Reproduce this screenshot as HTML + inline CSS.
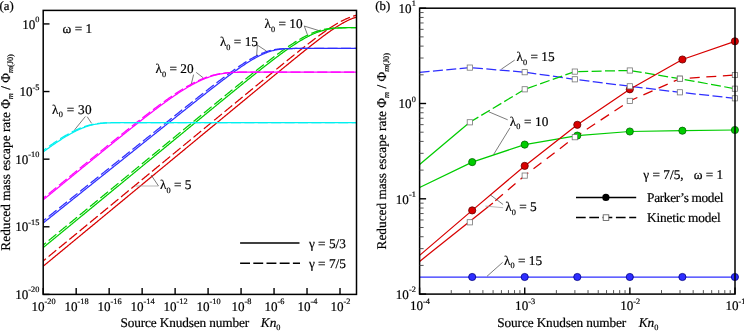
<!DOCTYPE html><html><head><meta charset="utf-8"><style>html,body{margin:0;padding:0;background:#fff;overflow:hidden}svg{display:block;will-change:transform}text{font-family:"Liberation Serif", serif;fill:#000;white-space:pre;text-rendering:geometricPrecision;stroke:#000;stroke-width:0.2px}</style></head><body>
<svg width="744" height="331" viewBox="0 0 744 331" xml:space="preserve">
<defs><clipPath id="cl"><rect x="43.20" y="10.40" width="313.30" height="284.00"/></clipPath>
<clipPath id="cr"><rect x="419.60" y="8.20" width="315.40" height="285.90"/></clipPath></defs>
<rect width="744" height="331" fill="#fff"/>
<polyline points="38.25,265.05 39.06,264.39 39.87,263.72 40.68,263.05 41.49,262.39 42.30,261.72 43.11,261.05 43.92,260.39 44.73,259.72 45.54,259.06 46.35,258.39 47.16,257.72 47.97,257.06 48.78,256.39 49.59,255.72 50.40,255.06 51.21,254.39 52.02,253.72 52.83,253.06 53.64,252.39 54.45,251.73 55.26,251.06 56.07,250.39 56.88,249.73 57.69,249.06 58.50,248.39 59.31,247.73 60.12,247.06 60.93,246.40 61.74,245.73 62.55,245.06 63.36,244.40 64.17,243.73 64.98,243.06 65.79,242.40 66.60,241.73 67.41,241.06 68.22,240.40 69.03,239.73 69.84,239.07 70.65,238.40 71.46,237.73 72.27,237.07 73.08,236.40 73.89,235.73 74.70,235.07 75.51,234.40 76.32,233.73 77.13,233.07 77.94,232.40 78.75,231.74 79.56,231.07 80.37,230.40 81.18,229.74 81.99,229.07 82.80,228.40 83.61,227.74 84.42,227.07 85.23,226.41 86.04,225.74 86.85,225.07 87.66,224.41 88.47,223.74 89.28,223.07 90.09,222.41 90.90,221.74 91.71,221.07 92.52,220.41 93.33,219.74 94.14,219.08 94.95,218.41 95.76,217.74 96.57,217.08 97.38,216.41 98.19,215.74 99.00,215.08 99.81,214.41 100.62,213.75 101.43,213.08 102.24,212.41 103.05,211.75 103.86,211.08 104.67,210.41 105.48,209.75 106.29,209.08 107.10,208.41 107.91,207.75 108.72,207.08 109.53,206.42 110.34,205.75 111.15,205.08 111.96,204.42 112.77,203.75 113.58,203.08 114.39,202.42 115.20,201.75 116.01,201.09 116.82,200.42 117.63,199.75 118.44,199.09 119.25,198.42 120.06,197.75 120.87,197.09 121.68,196.42 122.49,195.75 123.30,195.09 124.11,194.42 124.92,193.76 125.73,193.09 126.54,192.42 127.35,191.76 128.16,191.09 128.97,190.42 129.78,189.76 130.59,189.09 131.40,188.43 132.21,187.76 133.02,187.09 133.83,186.43 134.64,185.76 135.45,185.09 136.26,184.43 137.07,183.76 137.88,183.09 138.69,182.43 139.50,181.76 140.31,181.10 141.12,180.43 141.93,179.76 142.74,179.10 143.55,178.43 144.36,177.76 145.17,177.10 145.98,176.43 146.79,175.77 147.60,175.10 148.41,174.43 149.22,173.77 150.03,173.10 150.84,172.43 151.65,171.77 152.46,171.10 153.27,170.43 154.08,169.77 154.89,169.10 155.70,168.44 156.51,167.77 157.32,167.10 158.13,166.44 158.94,165.77 159.75,165.10 160.56,164.44 161.37,163.77 162.18,163.11 162.99,162.44 163.80,161.77 164.61,161.11 165.42,160.44 166.23,159.77 167.04,159.11 167.85,158.44 168.66,157.77 169.47,157.11 170.28,156.44 171.09,155.78 171.90,155.11 172.71,154.44 173.52,153.78 174.33,153.11 175.14,152.44 175.95,151.78 176.76,151.11 177.57,150.45 178.38,149.78 179.19,149.11 180.00,148.45 180.81,147.78 181.62,147.11 182.43,146.45 183.24,145.78 184.05,145.11 184.86,144.45 185.67,143.78 186.48,143.12 187.29,142.45 188.10,141.78 188.91,141.12 189.72,140.45 190.53,139.78 191.34,139.12 192.15,138.45 192.96,137.79 193.77,137.12 194.58,136.45 195.39,135.79 196.20,135.12 197.01,134.45 197.82,133.79 198.63,133.12 199.44,132.46 200.26,131.79 201.07,131.12 201.88,130.46 202.69,129.79 203.50,129.12 204.31,128.46 205.12,127.79 205.93,127.13 206.74,126.46 207.55,125.79 208.36,125.13 209.17,124.46 209.98,123.79 210.79,123.13 211.60,122.46 212.41,121.80 213.22,121.13 214.03,120.46 214.84,119.80 215.65,119.13 216.46,118.47 217.27,117.80 218.08,117.13 218.89,116.47 219.70,115.80 220.51,115.14 221.32,114.47 222.13,113.80 222.94,113.14 223.75,112.47 224.56,111.80 225.37,111.14 226.18,110.47 226.99,109.81 227.80,109.14 228.61,108.48 229.42,107.81 230.23,107.14 231.04,106.48 231.85,105.81 232.66,105.15 233.47,104.48 234.28,103.81 235.09,103.15 235.90,102.48 236.71,101.82 237.52,101.15 238.33,100.49 239.14,99.82 239.95,99.15 240.76,98.49 241.57,97.82 242.38,97.16 243.19,96.49 244.00,95.83 244.81,95.16 245.62,94.50 246.43,93.83 247.24,93.17 248.05,92.50 248.86,91.84 249.67,91.17 250.48,90.51 251.29,89.84 252.10,89.18 252.91,88.51 253.72,87.85 254.53,87.18 255.34,86.52 256.15,85.85 256.96,85.19 257.77,84.53 258.58,83.86 259.39,83.20 260.20,82.53 261.01,81.87 261.82,81.21 262.63,80.54 263.44,79.88 264.25,79.22 265.06,78.55 265.87,77.89 266.68,77.23 267.49,76.56 268.30,75.90 269.11,75.24 269.92,74.58 270.73,73.92 271.54,73.25 272.35,72.59 273.16,71.93 273.97,71.27 274.78,70.61 275.59,69.95 276.40,69.29 277.21,68.63 278.02,67.97 278.83,67.31 279.64,66.65 280.45,65.99 281.26,65.34 282.07,64.68 282.88,64.02 283.69,63.36 284.50,62.71 285.31,62.05 286.12,61.40 286.93,60.74 287.74,60.09 288.55,59.43 289.36,58.78 290.17,58.13 290.98,57.48 291.79,56.82 292.60,56.17 293.41,55.52 294.22,54.88 295.03,54.23 295.84,53.58 296.65,52.93 297.46,52.29 298.27,51.64 299.08,51.00 299.89,50.36 300.70,49.72 301.51,49.08 302.32,48.44 303.13,47.80 303.94,47.17 304.75,46.53 305.56,45.90 306.37,45.27 307.18,44.64 307.99,44.01 308.80,43.38 309.61,42.76 310.42,42.14 311.23,41.52 312.04,40.90 312.85,40.28 313.66,39.67 314.47,39.06 315.28,38.45 316.09,37.85 316.90,37.24 317.71,36.64 318.52,36.05 319.33,35.45 320.14,34.86 320.95,34.28 321.76,33.70 322.57,33.12 323.38,32.54 324.19,31.97 325.00,31.40 325.81,30.84 326.62,30.28 327.43,29.73 328.24,29.18 329.05,28.64 329.86,28.11 330.67,27.58 331.48,27.05 332.29,26.53 333.10,26.02 333.91,25.52 334.72,25.02 335.53,24.53 336.34,24.04 337.15,23.57 337.96,23.10 338.77,22.64 339.58,22.19 340.39,21.75 341.20,21.32 342.01,20.90 342.82,20.48 343.63,20.08 344.44,19.69 345.25,19.30 346.06,18.93 346.87,18.57 347.68,18.23 348.49,17.89 349.30,17.56 350.11,17.25 350.92,16.95 351.73,16.66 352.54,16.39 353.35,16.13 354.16,15.88 354.97,15.64 355.78,15.42 356.59,15.20 357.40,15.01 358.21,14.82 359.02,14.65 359.83,14.49 360.64,14.34 361.45,14.20" fill="none" stroke="#d80000" stroke-width="1.25" stroke-dasharray="10 3.4" clip-path="url(#cl)" stroke-linejoin="round"/>
<polyline points="38.25,270.32 39.06,269.65 39.87,268.98 40.68,268.31 41.49,267.64 42.30,266.97 43.11,266.30 43.92,265.63 44.73,264.96 45.54,264.29 46.35,263.63 47.16,262.96 47.97,262.29 48.78,261.62 49.59,260.95 50.40,260.28 51.21,259.61 52.02,258.94 52.83,258.27 53.64,257.60 54.45,256.94 55.26,256.27 56.07,255.60 56.88,254.93 57.69,254.26 58.50,253.59 59.31,252.92 60.12,252.25 60.93,251.58 61.74,250.92 62.55,250.25 63.36,249.58 64.17,248.91 64.98,248.24 65.79,247.57 66.60,246.90 67.41,246.23 68.22,245.56 69.03,244.89 69.84,244.23 70.65,243.56 71.46,242.89 72.27,242.22 73.08,241.55 73.89,240.88 74.70,240.21 75.51,239.54 76.32,238.87 77.13,238.20 77.94,237.54 78.75,236.87 79.56,236.20 80.37,235.53 81.18,234.86 81.99,234.19 82.80,233.52 83.61,232.85 84.42,232.18 85.23,231.51 86.04,230.85 86.85,230.18 87.66,229.51 88.47,228.84 89.28,228.17 90.09,227.50 90.90,226.83 91.71,226.16 92.52,225.49 93.33,224.82 94.14,224.16 94.95,223.49 95.76,222.82 96.57,222.15 97.38,221.48 98.19,220.81 99.00,220.14 99.81,219.47 100.62,218.80 101.43,218.14 102.24,217.47 103.05,216.80 103.86,216.13 104.67,215.46 105.48,214.79 106.29,214.12 107.10,213.45 107.91,212.78 108.72,212.11 109.53,211.45 110.34,210.78 111.15,210.11 111.96,209.44 112.77,208.77 113.58,208.10 114.39,207.43 115.20,206.76 116.01,206.09 116.82,205.42 117.63,204.76 118.44,204.09 119.25,203.42 120.06,202.75 120.87,202.08 121.68,201.41 122.49,200.74 123.30,200.07 124.11,199.40 124.92,198.73 125.73,198.07 126.54,197.40 127.35,196.73 128.16,196.06 128.97,195.39 129.78,194.72 130.59,194.05 131.40,193.38 132.21,192.71 133.02,192.05 133.83,191.38 134.64,190.71 135.45,190.04 136.26,189.37 137.07,188.70 137.88,188.03 138.69,187.36 139.50,186.69 140.31,186.02 141.12,185.36 141.93,184.69 142.74,184.02 143.55,183.35 144.36,182.68 145.17,182.01 145.98,181.34 146.79,180.67 147.60,180.00 148.41,179.33 149.22,178.67 150.03,178.00 150.84,177.33 151.65,176.66 152.46,175.99 153.27,175.32 154.08,174.65 154.89,173.98 155.70,173.31 156.51,172.64 157.32,171.98 158.13,171.31 158.94,170.64 159.75,169.97 160.56,169.30 161.37,168.63 162.18,167.96 162.99,167.29 163.80,166.62 164.61,165.95 165.42,165.29 166.23,164.62 167.04,163.95 167.85,163.28 168.66,162.61 169.47,161.94 170.28,161.27 171.09,160.60 171.90,159.93 172.71,159.27 173.52,158.60 174.33,157.93 175.14,157.26 175.95,156.59 176.76,155.92 177.57,155.25 178.38,154.58 179.19,153.91 180.00,153.24 180.81,152.58 181.62,151.91 182.43,151.24 183.24,150.57 184.05,149.90 184.86,149.23 185.67,148.56 186.48,147.89 187.29,147.22 188.10,146.55 188.91,145.89 189.72,145.22 190.53,144.55 191.34,143.88 192.15,143.21 192.96,142.54 193.77,141.87 194.58,141.20 195.39,140.53 196.20,139.87 197.01,139.20 197.82,138.53 198.63,137.86 199.44,137.19 200.26,136.52 201.07,135.85 201.88,135.18 202.69,134.51 203.50,133.84 204.31,133.18 205.12,132.51 205.93,131.84 206.74,131.17 207.55,130.50 208.36,129.83 209.17,129.16 209.98,128.49 210.79,127.82 211.60,127.16 212.41,126.49 213.22,125.82 214.03,125.15 214.84,124.48 215.65,123.81 216.46,123.14 217.27,122.47 218.08,121.80 218.89,121.13 219.70,120.47 220.51,119.80 221.32,119.13 222.13,118.46 222.94,117.79 223.75,117.12 224.56,116.45 225.37,115.78 226.18,115.11 226.99,114.45 227.80,113.78 228.61,113.11 229.42,112.44 230.23,111.77 231.04,111.10 231.85,110.43 232.66,109.76 233.47,109.10 234.28,108.43 235.09,107.76 235.90,107.09 236.71,106.42 237.52,105.75 238.33,105.08 239.14,104.41 239.95,103.75 240.76,103.08 241.57,102.41 242.38,101.74 243.19,101.07 244.00,100.40 244.81,99.73 245.62,99.07 246.43,98.40 247.24,97.73 248.05,97.06 248.86,96.39 249.67,95.72 250.48,95.05 251.29,94.39 252.10,93.72 252.91,93.05 253.72,92.38 254.53,91.71 255.34,91.04 256.15,90.38 256.96,89.71 257.77,89.04 258.58,88.37 259.39,87.70 260.20,87.04 261.01,86.37 261.82,85.70 262.63,85.03 263.44,84.37 264.25,83.70 265.06,83.03 265.87,82.36 266.68,81.70 267.49,81.03 268.30,80.36 269.11,79.69 269.92,79.03 270.73,78.36 271.54,77.69 272.35,77.03 273.16,76.36 273.97,75.69 274.78,75.03 275.59,74.36 276.40,73.70 277.21,73.03 278.02,72.36 278.83,71.70 279.64,71.03 280.45,70.37 281.26,69.70 282.07,69.04 282.88,68.38 283.69,67.71 284.50,67.05 285.31,66.38 286.12,65.72 286.93,65.06 287.74,64.40 288.55,63.73 289.36,63.07 290.17,62.41 290.98,61.75 291.79,61.09 292.60,60.43 293.41,59.77 294.22,59.11 295.03,58.45 295.84,57.79 296.65,57.14 297.46,56.48 298.27,55.82 299.08,55.17 299.89,54.51 300.70,53.86 301.51,53.20 302.32,52.55 303.13,51.90 303.94,51.25 304.75,50.60 305.56,49.95 306.37,49.30 307.18,48.66 307.99,48.01 308.80,47.37 309.61,46.73 310.42,46.09 311.23,45.45 312.04,44.81 312.85,44.17 313.66,43.54 314.47,42.91 315.28,42.28 316.09,41.65 316.90,41.02 317.71,40.40 318.52,39.77 319.33,39.16 320.14,38.54 320.95,37.93 321.76,37.31 322.57,36.71 323.38,36.10 324.19,35.50 325.00,34.90 325.81,34.31 326.62,33.72 327.43,33.13 328.24,32.55 329.05,31.97 329.86,31.40 330.67,30.83 331.48,30.27 332.29,29.71 333.10,29.16 333.91,28.62 334.72,28.08 335.53,27.54 336.34,27.02 337.15,26.50 337.96,25.99 338.77,25.48 339.58,24.99 340.39,24.50 341.20,24.02 342.01,23.55 342.82,23.09 343.63,22.64 344.44,22.20 345.25,21.78 346.06,21.36 346.87,20.95 347.68,20.55 348.49,20.17 349.30,19.80 350.11,19.44 350.92,19.10 351.73,18.76 352.54,18.45 353.35,18.14 354.16,17.85 354.97,17.57 355.78,17.31 356.59,17.06 357.40,16.83 358.21,16.61 359.02,16.41 359.83,16.22 360.64,16.05 361.45,15.88" fill="none" stroke="#d80000" stroke-width="1.25" clip-path="url(#cl)" stroke-linejoin="round"/>
<polyline points="38.25,249.10 39.06,248.44 39.87,247.77 40.68,247.11 41.49,246.44 42.30,245.78 43.11,245.11 43.92,244.44 44.73,243.78 45.54,243.11 46.35,242.45 47.16,241.78 47.97,241.12 48.78,240.45 49.59,239.78 50.40,239.12 51.21,238.45 52.02,237.79 52.83,237.12 53.64,236.46 54.45,235.79 55.26,235.12 56.07,234.46 56.88,233.79 57.69,233.13 58.50,232.46 59.31,231.80 60.12,231.13 60.93,230.47 61.74,229.80 62.55,229.13 63.36,228.47 64.17,227.80 64.98,227.14 65.79,226.47 66.60,225.81 67.41,225.14 68.22,224.47 69.03,223.81 69.84,223.14 70.65,222.48 71.46,221.81 72.27,221.15 73.08,220.48 73.89,219.81 74.70,219.15 75.51,218.48 76.32,217.82 77.13,217.15 77.94,216.49 78.75,215.82 79.56,215.15 80.37,214.49 81.18,213.82 81.99,213.16 82.80,212.49 83.61,211.83 84.42,211.16 85.23,210.50 86.04,209.83 86.85,209.16 87.66,208.50 88.47,207.83 89.28,207.17 90.09,206.50 90.90,205.84 91.71,205.17 92.52,204.50 93.33,203.84 94.14,203.17 94.95,202.51 95.76,201.84 96.57,201.18 97.38,200.51 98.19,199.84 99.00,199.18 99.81,198.51 100.62,197.85 101.43,197.18 102.24,196.52 103.05,195.85 103.86,195.19 104.67,194.52 105.48,193.85 106.29,193.19 107.10,192.52 107.91,191.86 108.72,191.19 109.53,190.53 110.34,189.86 111.15,189.19 111.96,188.53 112.77,187.86 113.58,187.20 114.39,186.53 115.20,185.87 116.01,185.20 116.82,184.54 117.63,183.87 118.44,183.20 119.25,182.54 120.06,181.87 120.87,181.21 121.68,180.54 122.49,179.88 123.30,179.21 124.11,178.54 124.92,177.88 125.73,177.21 126.54,176.55 127.35,175.88 128.16,175.22 128.97,174.55 129.78,173.89 130.59,173.22 131.40,172.55 132.21,171.89 133.02,171.22 133.83,170.56 134.64,169.89 135.45,169.23 136.26,168.56 137.07,167.89 137.88,167.23 138.69,166.56 139.50,165.90 140.31,165.23 141.12,164.57 141.93,163.90 142.74,163.24 143.55,162.57 144.36,161.90 145.17,161.24 145.98,160.57 146.79,159.91 147.60,159.24 148.41,158.58 149.22,157.91 150.03,157.25 150.84,156.58 151.65,155.91 152.46,155.25 153.27,154.58 154.08,153.92 154.89,153.25 155.70,152.59 156.51,151.92 157.32,151.26 158.13,150.59 158.94,149.92 159.75,149.26 160.56,148.59 161.37,147.93 162.18,147.26 162.99,146.60 163.80,145.93 164.61,145.27 165.42,144.60 166.23,143.94 167.04,143.27 167.85,142.60 168.66,141.94 169.47,141.27 170.28,140.61 171.09,139.94 171.90,139.28 172.71,138.61 173.52,137.95 174.33,137.28 175.14,136.62 175.95,135.95 176.76,135.29 177.57,134.62 178.38,133.96 179.19,133.29 180.00,132.63 180.81,131.96 181.62,131.30 182.43,130.63 183.24,129.97 184.05,129.30 184.86,128.64 185.67,127.97 186.48,127.31 187.29,126.64 188.10,125.98 188.91,125.31 189.72,124.65 190.53,123.98 191.34,123.32 192.15,122.65 192.96,121.99 193.77,121.32 194.58,120.66 195.39,119.99 196.20,119.33 197.01,118.66 197.82,118.00 198.63,117.33 199.44,116.67 200.26,116.01 201.07,115.34 201.88,114.68 202.69,114.01 203.50,113.35 204.31,112.69 205.12,112.02 205.93,111.36 206.74,110.69 207.55,110.03 208.36,109.37 209.17,108.70 209.98,108.04 210.79,107.38 211.60,106.71 212.41,106.05 213.22,105.39 214.03,104.72 214.84,104.06 215.65,103.40 216.46,102.74 217.27,102.07 218.08,101.41 218.89,100.75 219.70,100.09 220.51,99.43 221.32,98.76 222.13,98.10 222.94,97.44 223.75,96.78 224.56,96.12 225.37,95.46 226.18,94.80 226.99,94.14 227.80,93.48 228.61,92.82 229.42,92.16 230.23,91.50 231.04,90.84 231.85,90.18 232.66,89.52 233.47,88.86 234.28,88.21 235.09,87.55 235.90,86.89 236.71,86.23 237.52,85.58 238.33,84.92 239.14,84.27 239.95,83.61 240.76,82.96 241.57,82.30 242.38,81.65 243.19,80.99 244.00,80.34 244.81,79.69 245.62,79.04 246.43,78.39 247.24,77.73 248.05,77.08 248.86,76.43 249.67,75.79 250.48,75.14 251.29,74.49 252.10,73.84 252.91,73.20 253.72,72.55 254.53,71.91 255.34,71.27 256.15,70.62 256.96,69.98 257.77,69.34 258.58,68.70 259.39,68.06 260.20,67.43 261.01,66.79 261.82,66.16 262.63,65.52 263.44,64.89 264.25,64.26 265.06,63.63 265.87,63.00 266.68,62.38 267.49,61.75 268.30,61.13 269.11,60.51 269.92,59.89 270.73,59.27 271.54,58.66 272.35,58.05 273.16,57.44 273.97,56.83 274.78,56.22 275.59,55.62 276.40,55.01 277.21,54.42 278.02,53.82 278.83,53.23 279.64,52.64 280.45,52.05 281.26,51.46 282.07,50.88 282.88,50.30 283.69,49.73 284.50,49.16 285.31,48.59 286.12,48.03 286.93,47.47 287.74,46.92 288.55,46.37 289.36,45.82 290.17,45.28 290.98,44.75 291.79,44.21 292.60,43.69 293.41,43.17 294.22,42.65 295.03,42.15 295.84,41.64 296.65,41.15 297.46,40.65 298.27,40.17 299.08,39.69 299.89,39.22 300.70,38.76 301.51,38.31 302.32,37.86 303.13,37.42 303.94,36.99 304.75,36.56 305.56,36.15 306.37,35.74 307.18,35.34 307.99,34.95 308.80,34.58 309.61,34.21 310.42,33.85 311.23,33.50 312.04,33.16 312.85,32.83 313.66,32.51 314.47,32.20 315.28,31.91 316.09,31.62 316.90,31.35 317.71,31.08 318.52,30.83 319.33,30.59 320.14,30.36 320.95,30.14 321.76,29.93 322.57,29.74 323.38,29.55 324.19,29.38 325.00,29.22 325.81,29.06 326.62,28.92 327.43,28.79 328.24,28.67 329.05,28.56 329.86,28.46 330.67,28.36 331.48,28.28 332.29,28.20 333.10,28.13 333.91,28.07 334.72,28.02 335.53,27.97 336.34,27.93 337.15,27.89 337.96,27.86 338.77,27.83 339.58,27.81 340.39,27.79 341.20,27.78 342.01,27.76 342.82,27.75 343.63,27.74 344.44,27.73 345.25,27.73 346.06,27.72 346.87,27.72 347.68,27.72 348.49,27.72 349.30,27.71 350.11,27.71 350.92,27.71 351.73,27.71 352.54,27.71 353.35,27.71 354.16,27.71 354.97,27.71 355.78,27.71 356.59,27.71 357.40,27.71 358.21,27.71 359.02,27.71 359.83,27.71 360.64,27.71 361.45,27.71" fill="none" stroke="#00cc00" stroke-width="1.25" stroke-dasharray="10 3.4" clip-path="url(#cl)" stroke-linejoin="round"/>
<polyline points="38.25,251.67 39.06,251.01 39.87,250.34 40.68,249.68 41.49,249.01 42.30,248.34 43.11,247.68 43.92,247.01 44.73,246.35 45.54,245.68 46.35,245.02 47.16,244.35 47.97,243.69 48.78,243.02 49.59,242.35 50.40,241.69 51.21,241.02 52.02,240.36 52.83,239.69 53.64,239.03 54.45,238.36 55.26,237.69 56.07,237.03 56.88,236.36 57.69,235.70 58.50,235.03 59.31,234.37 60.12,233.70 60.93,233.03 61.74,232.37 62.55,231.70 63.36,231.04 64.17,230.37 64.98,229.71 65.79,229.04 66.60,228.37 67.41,227.71 68.22,227.04 69.03,226.38 69.84,225.71 70.65,225.05 71.46,224.38 72.27,223.72 73.08,223.05 73.89,222.38 74.70,221.72 75.51,221.05 76.32,220.39 77.13,219.72 77.94,219.06 78.75,218.39 79.56,217.72 80.37,217.06 81.18,216.39 81.99,215.73 82.80,215.06 83.61,214.40 84.42,213.73 85.23,213.06 86.04,212.40 86.85,211.73 87.66,211.07 88.47,210.40 89.28,209.74 90.09,209.07 90.90,208.41 91.71,207.74 92.52,207.07 93.33,206.41 94.14,205.74 94.95,205.08 95.76,204.41 96.57,203.75 97.38,203.08 98.19,202.41 99.00,201.75 99.81,201.08 100.62,200.42 101.43,199.75 102.24,199.09 103.05,198.42 103.86,197.75 104.67,197.09 105.48,196.42 106.29,195.76 107.10,195.09 107.91,194.43 108.72,193.76 109.53,193.10 110.34,192.43 111.15,191.76 111.96,191.10 112.77,190.43 113.58,189.77 114.39,189.10 115.20,188.44 116.01,187.77 116.82,187.10 117.63,186.44 118.44,185.77 119.25,185.11 120.06,184.44 120.87,183.78 121.68,183.11 122.49,182.45 123.30,181.78 124.11,181.11 124.92,180.45 125.73,179.78 126.54,179.12 127.35,178.45 128.16,177.79 128.97,177.12 129.78,176.45 130.59,175.79 131.40,175.12 132.21,174.46 133.02,173.79 133.83,173.13 134.64,172.46 135.45,171.80 136.26,171.13 137.07,170.46 137.88,169.80 138.69,169.13 139.50,168.47 140.31,167.80 141.12,167.14 141.93,166.47 142.74,165.80 143.55,165.14 144.36,164.47 145.17,163.81 145.98,163.14 146.79,162.48 147.60,161.81 148.41,161.15 149.22,160.48 150.03,159.81 150.84,159.15 151.65,158.48 152.46,157.82 153.27,157.15 154.08,156.49 154.89,155.82 155.70,155.16 156.51,154.49 157.32,153.82 158.13,153.16 158.94,152.49 159.75,151.83 160.56,151.16 161.37,150.50 162.18,149.83 162.99,149.17 163.80,148.50 164.61,147.84 165.42,147.17 166.23,146.50 167.04,145.84 167.85,145.17 168.66,144.51 169.47,143.84 170.28,143.18 171.09,142.51 171.90,141.85 172.71,141.18 173.52,140.52 174.33,139.85 175.14,139.19 175.95,138.52 176.76,137.85 177.57,137.19 178.38,136.52 179.19,135.86 180.00,135.19 180.81,134.53 181.62,133.86 182.43,133.20 183.24,132.53 184.05,131.87 184.86,131.20 185.67,130.54 186.48,129.87 187.29,129.21 188.10,128.54 188.91,127.88 189.72,127.21 190.53,126.55 191.34,125.88 192.15,125.22 192.96,124.55 193.77,123.89 194.58,123.22 195.39,122.56 196.20,121.89 197.01,121.23 197.82,120.56 198.63,119.90 199.44,119.24 200.26,118.57 201.07,117.91 201.88,117.24 202.69,116.58 203.50,115.91 204.31,115.25 205.12,114.58 205.93,113.92 206.74,113.26 207.55,112.59 208.36,111.93 209.17,111.27 209.98,110.60 210.79,109.94 211.60,109.27 212.41,108.61 213.22,107.95 214.03,107.28 214.84,106.62 215.65,105.96 216.46,105.29 217.27,104.63 218.08,103.97 218.89,103.31 219.70,102.64 220.51,101.98 221.32,101.32 222.13,100.66 222.94,100.00 223.75,99.33 224.56,98.67 225.37,98.01 226.18,97.35 226.99,96.69 227.80,96.03 228.61,95.37 229.42,94.71 230.23,94.05 231.04,93.39 231.85,92.73 232.66,92.07 233.47,91.41 234.28,90.75 235.09,90.09 235.90,89.43 236.71,88.77 237.52,88.11 238.33,87.46 239.14,86.80 239.95,86.14 240.76,85.49 241.57,84.83 242.38,84.17 243.19,83.52 244.00,82.86 244.81,82.21 245.62,81.56 246.43,80.90 247.24,80.25 248.05,79.60 248.86,78.95 249.67,78.29 250.48,77.64 251.29,76.99 252.10,76.34 252.91,75.70 253.72,75.05 254.53,74.40 255.34,73.75 256.15,73.11 256.96,72.46 257.77,71.82 258.58,71.18 259.39,70.53 260.20,69.89 261.01,69.25 261.82,68.61 262.63,67.98 263.44,67.34 264.25,66.70 265.06,66.07 265.87,65.44 266.68,64.80 267.49,64.17 268.30,63.54 269.11,62.92 269.92,62.29 270.73,61.67 271.54,61.04 272.35,60.42 273.16,59.81 273.97,59.19 274.78,58.57 275.59,57.96 276.40,57.35 277.21,56.74 278.02,56.14 278.83,55.53 279.64,54.93 280.45,54.33 281.26,53.74 282.07,53.14 282.88,52.55 283.69,51.97 284.50,51.38 285.31,50.80 286.12,50.22 286.93,49.65 287.74,49.08 288.55,48.51 289.36,47.95 290.17,47.39 290.98,46.84 291.79,46.29 292.60,45.75 293.41,45.21 294.22,44.67 295.03,44.14 295.84,43.62 296.65,43.10 297.46,42.58 298.27,42.07 299.08,41.57 299.89,41.08 300.70,40.59 301.51,40.10 302.32,39.63 303.13,39.16 303.94,38.70 304.75,38.24 305.56,37.80 306.37,37.36 307.18,36.93 307.99,36.50 308.80,36.09 309.61,35.68 310.42,35.29 311.23,34.90 312.04,34.52 312.85,34.16 313.66,33.80 314.47,33.45 315.28,33.11 316.09,32.78 316.90,32.47 317.71,32.16 318.52,31.87 319.33,31.58 320.14,31.31 320.95,31.05 321.76,30.80 322.57,30.56 323.38,30.33 324.19,30.11 325.00,29.90 325.81,29.71 326.62,29.53 327.43,29.35 328.24,29.19 329.05,29.04 329.86,28.90 330.67,28.77 331.48,28.65 332.29,28.54 333.10,28.44 333.91,28.35 334.72,28.27 335.53,28.19 336.34,28.12 337.15,28.06 337.96,28.01 338.77,27.96 339.58,27.92 340.39,27.89 341.20,27.86 342.01,27.83 342.82,27.81 343.63,27.79 344.44,27.77 345.25,27.76 346.06,27.75 346.87,27.74 347.68,27.73 348.49,27.73 349.30,27.72 350.11,27.72 350.92,27.72 351.73,27.72 352.54,27.71 353.35,27.71 354.16,27.71 354.97,27.71 355.78,27.71 356.59,27.71 357.40,27.71 358.21,27.71 359.02,27.71 359.83,27.71 360.64,27.71 361.45,27.71" fill="none" stroke="#00cc00" stroke-width="1.25" clip-path="url(#cl)" stroke-linejoin="round"/>
<polyline points="38.25,224.78 39.06,224.14 39.87,223.49 40.68,222.84 41.49,222.19 42.30,221.55 43.11,220.90 43.92,220.25 44.73,219.61 45.54,218.96 46.35,218.31 47.16,217.66 47.97,217.02 48.78,216.37 49.59,215.72 50.40,215.08 51.21,214.43 52.02,213.78 52.83,213.14 53.64,212.49 54.45,211.84 55.26,211.19 56.07,210.55 56.88,209.90 57.69,209.25 58.50,208.61 59.31,207.96 60.12,207.31 60.93,206.66 61.74,206.02 62.55,205.37 63.36,204.72 64.17,204.08 64.98,203.43 65.79,202.78 66.60,202.14 67.41,201.49 68.22,200.84 69.03,200.19 69.84,199.55 70.65,198.90 71.46,198.25 72.27,197.61 73.08,196.96 73.89,196.31 74.70,195.66 75.51,195.02 76.32,194.37 77.13,193.72 77.94,193.08 78.75,192.43 79.56,191.78 80.37,191.14 81.18,190.49 81.99,189.84 82.80,189.19 83.61,188.55 84.42,187.90 85.23,187.25 86.04,186.61 86.85,185.96 87.66,185.31 88.47,184.67 89.28,184.02 90.09,183.37 90.90,182.72 91.71,182.08 92.52,181.43 93.33,180.78 94.14,180.14 94.95,179.49 95.76,178.84 96.57,178.19 97.38,177.55 98.19,176.90 99.00,176.25 99.81,175.61 100.62,174.96 101.43,174.31 102.24,173.67 103.05,173.02 103.86,172.37 104.67,171.72 105.48,171.08 106.29,170.43 107.10,169.78 107.91,169.14 108.72,168.49 109.53,167.84 110.34,167.20 111.15,166.55 111.96,165.90 112.77,165.25 113.58,164.61 114.39,163.96 115.20,163.31 116.01,162.67 116.82,162.02 117.63,161.37 118.44,160.73 119.25,160.08 120.06,159.43 120.87,158.78 121.68,158.14 122.49,157.49 123.30,156.84 124.11,156.20 124.92,155.55 125.73,154.90 126.54,154.26 127.35,153.61 128.16,152.96 128.97,152.32 129.78,151.67 130.59,151.02 131.40,150.37 132.21,149.73 133.02,149.08 133.83,148.43 134.64,147.79 135.45,147.14 136.26,146.49 137.07,145.85 137.88,145.20 138.69,144.55 139.50,143.91 140.31,143.26 141.12,142.61 141.93,141.97 142.74,141.32 143.55,140.67 144.36,140.03 145.17,139.38 145.98,138.73 146.79,138.09 147.60,137.44 148.41,136.79 149.22,136.15 150.03,135.50 150.84,134.85 151.65,134.21 152.46,133.56 153.27,132.91 154.08,132.27 154.89,131.62 155.70,130.97 156.51,130.33 157.32,129.68 158.13,129.04 158.94,128.39 159.75,127.74 160.56,127.10 161.37,126.45 162.18,125.81 162.99,125.16 163.80,124.51 164.61,123.87 165.42,123.22 166.23,122.58 167.04,121.93 167.85,121.29 168.66,120.64 169.47,119.99 170.28,119.35 171.09,118.70 171.90,118.06 172.71,117.41 173.52,116.77 174.33,116.12 175.14,115.48 175.95,114.83 176.76,114.19 177.57,113.54 178.38,112.90 179.19,112.26 180.00,111.61 180.81,110.97 181.62,110.32 182.43,109.68 183.24,109.04 184.05,108.39 184.86,107.75 185.67,107.11 186.48,106.47 187.29,105.82 188.10,105.18 188.91,104.54 189.72,103.90 190.53,103.26 191.34,102.62 192.15,101.97 192.96,101.33 193.77,100.69 194.58,100.05 195.39,99.41 196.20,98.77 197.01,98.14 197.82,97.50 198.63,96.86 199.44,96.22 200.26,95.58 201.07,94.95 201.88,94.31 202.69,93.68 203.50,93.04 204.31,92.41 205.12,91.77 205.93,91.14 206.74,90.51 207.55,89.87 208.36,89.24 209.17,88.61 209.98,87.98 210.79,87.36 211.60,86.73 212.41,86.10 213.22,85.47 214.03,84.85 214.84,84.23 215.65,83.60 216.46,82.98 217.27,82.36 218.08,81.74 218.89,81.12 219.70,80.51 220.51,79.89 221.32,79.28 222.13,78.67 222.94,78.06 223.75,77.45 224.56,76.84 225.37,76.24 226.18,75.64 226.99,75.04 227.80,74.44 228.61,73.84 229.42,73.25 230.23,72.66 231.04,72.07 231.85,71.49 232.66,70.90 233.47,70.33 234.28,69.75 235.09,69.18 235.90,68.61 236.71,68.04 237.52,67.48 238.33,66.92 239.14,66.37 239.95,65.82 240.76,65.27 241.57,64.73 242.38,64.20 243.19,63.67 244.00,63.14 244.81,62.62 245.62,62.11 246.43,61.60 247.24,61.10 248.05,60.61 248.86,60.12 249.67,59.64 250.48,59.16 251.29,58.70 252.10,58.24 252.91,57.79 253.72,57.34 254.53,56.91 255.34,56.49 256.15,56.07 256.96,55.66 257.77,55.27 258.58,54.88 259.39,54.50 260.20,54.14 261.01,53.78 261.82,53.44 262.63,53.11 263.44,52.79 264.25,52.48 265.06,52.18 265.87,51.90 266.68,51.63 267.49,51.37 268.30,51.12 269.11,50.88 269.92,50.66 270.73,50.45 271.54,50.26 272.35,50.07 273.16,49.90 273.97,49.74 274.78,49.60 275.59,49.46 276.40,49.34 277.21,49.23 278.02,49.13 278.83,49.03 279.64,48.95 280.45,48.88 281.26,48.82 282.07,48.76 282.88,48.71 283.69,48.67 284.50,48.63 285.31,48.60 286.12,48.58 286.93,48.56 287.74,48.54 288.55,48.53 289.36,48.52 290.17,48.51 290.98,48.50 291.79,48.50 292.60,48.49 293.41,48.49 294.22,48.49 295.03,48.49 295.84,48.49 296.65,48.48 297.46,48.48 298.27,48.48 299.08,48.48 299.89,48.48 300.70,48.48 301.51,48.48 302.32,48.48 303.13,48.48 303.94,48.48 304.75,48.48 305.56,48.48 306.37,48.48 307.18,48.48 307.99,48.48 308.80,48.48 309.61,48.48 310.42,48.48 311.23,48.48 312.04,48.48 312.85,48.48 313.66,48.48 314.47,48.48 315.28,48.48 316.09,48.48 316.90,48.48 317.71,48.48 318.52,48.48 319.33,48.48 320.14,48.48 320.95,48.48 321.76,48.48 322.57,48.48 323.38,48.48 324.19,48.48 325.00,48.48 325.81,48.48 326.62,48.48 327.43,48.48 328.24,48.48 329.05,48.48 329.86,48.48 330.67,48.48 331.48,48.48 332.29,48.48 333.10,48.48 333.91,48.48 334.72,48.48 335.53,48.48 336.34,48.48 337.15,48.48 337.96,48.48 338.77,48.48 339.58,48.48 340.39,48.48 341.20,48.48 342.01,48.48 342.82,48.48 343.63,48.48 344.44,48.48 345.25,48.48 346.06,48.48 346.87,48.48 347.68,48.48 348.49,48.48 349.30,48.48 350.11,48.48 350.92,48.48 351.73,48.48 352.54,48.48 353.35,48.48 354.16,48.48 354.97,48.48 355.78,48.48 356.59,48.48 357.40,48.48 358.21,48.48 359.02,48.48 359.83,48.48 360.64,48.48 361.45,48.48" fill="none" stroke="#2e2eff" stroke-width="1.25" stroke-dasharray="10 3.4" clip-path="url(#cl)" stroke-linejoin="round"/>
<polyline points="38.25,226.95 39.06,226.30 39.87,225.65 40.68,225.00 41.49,224.36 42.30,223.71 43.11,223.06 43.92,222.42 44.73,221.77 45.54,221.12 46.35,220.48 47.16,219.83 47.97,219.18 48.78,218.53 49.59,217.89 50.40,217.24 51.21,216.59 52.02,215.95 52.83,215.30 53.64,214.65 54.45,214.00 55.26,213.36 56.07,212.71 56.88,212.06 57.69,211.42 58.50,210.77 59.31,210.12 60.12,209.48 60.93,208.83 61.74,208.18 62.55,207.53 63.36,206.89 64.17,206.24 64.98,205.59 65.79,204.95 66.60,204.30 67.41,203.65 68.22,203.00 69.03,202.36 69.84,201.71 70.65,201.06 71.46,200.42 72.27,199.77 73.08,199.12 73.89,198.48 74.70,197.83 75.51,197.18 76.32,196.53 77.13,195.89 77.94,195.24 78.75,194.59 79.56,193.95 80.37,193.30 81.18,192.65 81.99,192.01 82.80,191.36 83.61,190.71 84.42,190.06 85.23,189.42 86.04,188.77 86.85,188.12 87.66,187.48 88.47,186.83 89.28,186.18 90.09,185.53 90.90,184.89 91.71,184.24 92.52,183.59 93.33,182.95 94.14,182.30 94.95,181.65 95.76,181.01 96.57,180.36 97.38,179.71 98.19,179.06 99.00,178.42 99.81,177.77 100.62,177.12 101.43,176.48 102.24,175.83 103.05,175.18 103.86,174.54 104.67,173.89 105.48,173.24 106.29,172.59 107.10,171.95 107.91,171.30 108.72,170.65 109.53,170.01 110.34,169.36 111.15,168.71 111.96,168.06 112.77,167.42 113.58,166.77 114.39,166.12 115.20,165.48 116.01,164.83 116.82,164.18 117.63,163.54 118.44,162.89 119.25,162.24 120.06,161.60 120.87,160.95 121.68,160.30 122.49,159.65 123.30,159.01 124.11,158.36 124.92,157.71 125.73,157.07 126.54,156.42 127.35,155.77 128.16,155.13 128.97,154.48 129.78,153.83 130.59,153.18 131.40,152.54 132.21,151.89 133.02,151.24 133.83,150.60 134.64,149.95 135.45,149.30 136.26,148.66 137.07,148.01 137.88,147.36 138.69,146.72 139.50,146.07 140.31,145.42 141.12,144.78 141.93,144.13 142.74,143.48 143.55,142.84 144.36,142.19 145.17,141.54 145.98,140.90 146.79,140.25 147.60,139.60 148.41,138.96 149.22,138.31 150.03,137.66 150.84,137.02 151.65,136.37 152.46,135.72 153.27,135.08 154.08,134.43 154.89,133.78 155.70,133.14 156.51,132.49 157.32,131.84 158.13,131.20 158.94,130.55 159.75,129.90 160.56,129.26 161.37,128.61 162.18,127.97 162.99,127.32 163.80,126.67 164.61,126.03 165.42,125.38 166.23,124.74 167.04,124.09 167.85,123.44 168.66,122.80 169.47,122.15 170.28,121.51 171.09,120.86 171.90,120.22 172.71,119.57 173.52,118.93 174.33,118.28 175.14,117.64 175.95,116.99 176.76,116.35 177.57,115.70 178.38,115.06 179.19,114.41 180.00,113.77 180.81,113.12 181.62,112.48 182.43,111.83 183.24,111.19 184.05,110.55 184.86,109.90 185.67,109.26 186.48,108.62 187.29,107.97 188.10,107.33 188.91,106.69 189.72,106.04 190.53,105.40 191.34,104.76 192.15,104.12 192.96,103.48 193.77,102.84 194.58,102.19 195.39,101.55 196.20,100.91 197.01,100.27 197.82,99.63 198.63,98.99 199.44,98.36 200.26,97.72 201.07,97.08 201.88,96.44 202.69,95.80 203.50,95.17 204.31,94.53 205.12,93.89 205.93,93.26 206.74,92.62 207.55,91.99 208.36,91.36 209.17,90.72 209.98,90.09 210.79,89.46 211.60,88.83 212.41,88.20 213.22,87.57 214.03,86.94 214.84,86.32 215.65,85.69 216.46,85.06 217.27,84.44 218.08,83.82 218.89,83.20 219.70,82.57 220.51,81.95 221.32,81.34 222.13,80.72 222.94,80.10 223.75,79.49 224.56,78.88 225.37,78.27 226.18,77.66 226.99,77.05 227.80,76.45 228.61,75.84 229.42,75.24 230.23,74.65 231.04,74.05 231.85,73.45 232.66,72.86 233.47,72.27 234.28,71.69 235.09,71.10 235.90,70.52 236.71,69.95 237.52,69.37 238.33,68.80 239.14,68.24 239.95,67.67 240.76,67.11 241.57,66.56 242.38,66.01 243.19,65.46 244.00,64.92 244.81,64.38 245.62,63.85 246.43,63.32 247.24,62.80 248.05,62.29 248.86,61.78 249.67,61.27 250.48,60.78 251.29,60.29 252.10,59.80 252.91,59.33 253.72,58.86 254.53,58.39 255.34,57.94 256.15,57.50 256.96,57.06 257.77,56.63 258.58,56.21 259.39,55.80 260.20,55.40 261.01,55.01 261.82,54.63 262.63,54.26 263.44,53.90 264.25,53.56 265.06,53.22 265.87,52.90 266.68,52.58 267.49,52.28 268.30,51.99 269.11,51.72 269.92,51.45 270.73,51.20 271.54,50.96 272.35,50.74 273.16,50.52 273.97,50.32 274.78,50.14 275.59,49.96 276.40,49.80 277.21,49.65 278.02,49.51 278.83,49.38 279.64,49.26 280.45,49.16 281.26,49.06 282.07,48.98 282.88,48.90 283.69,48.84 284.50,48.78 285.31,48.73 286.12,48.68 286.93,48.65 287.74,48.61 288.55,48.59 289.36,48.57 290.17,48.55 290.98,48.53 291.79,48.52 292.60,48.51 293.41,48.50 294.22,48.50 295.03,48.49 295.84,48.49 296.65,48.49 297.46,48.49 298.27,48.49 299.08,48.48 299.89,48.48 300.70,48.48 301.51,48.48 302.32,48.48 303.13,48.48 303.94,48.48 304.75,48.48 305.56,48.48 306.37,48.48 307.18,48.48 307.99,48.48 308.80,48.48 309.61,48.48 310.42,48.48 311.23,48.48 312.04,48.48 312.85,48.48 313.66,48.48 314.47,48.48 315.28,48.48 316.09,48.48 316.90,48.48 317.71,48.48 318.52,48.48 319.33,48.48 320.14,48.48 320.95,48.48 321.76,48.48 322.57,48.48 323.38,48.48 324.19,48.48 325.00,48.48 325.81,48.48 326.62,48.48 327.43,48.48 328.24,48.48 329.05,48.48 329.86,48.48 330.67,48.48 331.48,48.48 332.29,48.48 333.10,48.48 333.91,48.48 334.72,48.48 335.53,48.48 336.34,48.48 337.15,48.48 337.96,48.48 338.77,48.48 339.58,48.48 340.39,48.48 341.20,48.48 342.01,48.48 342.82,48.48 343.63,48.48 344.44,48.48 345.25,48.48 346.06,48.48 346.87,48.48 347.68,48.48 348.49,48.48 349.30,48.48 350.11,48.48 350.92,48.48 351.73,48.48 352.54,48.48 353.35,48.48 354.16,48.48 354.97,48.48 355.78,48.48 356.59,48.48 357.40,48.48 358.21,48.48 359.02,48.48 359.83,48.48 360.64,48.48 361.45,48.48" fill="none" stroke="#2e2eff" stroke-width="1.25" clip-path="url(#cl)" stroke-linejoin="round"/>
<polyline points="38.25,202.32 39.06,201.65 39.87,200.99 40.68,200.33 41.49,199.66 42.30,199.00 43.11,198.33 43.92,197.67 44.73,197.01 45.54,196.34 46.35,195.68 47.16,195.02 47.97,194.35 48.78,193.69 49.59,193.02 50.40,192.36 51.21,191.70 52.02,191.03 52.83,190.37 53.64,189.71 54.45,189.04 55.26,188.38 56.07,187.72 56.88,187.05 57.69,186.39 58.50,185.73 59.31,185.06 60.12,184.40 60.93,183.74 61.74,183.07 62.55,182.41 63.36,181.75 64.17,181.09 64.98,180.42 65.79,179.76 66.60,179.10 67.41,178.43 68.22,177.77 69.03,177.11 69.84,176.45 70.65,175.78 71.46,175.12 72.27,174.46 73.08,173.80 73.89,173.13 74.70,172.47 75.51,171.81 76.32,171.15 77.13,170.49 77.94,169.82 78.75,169.16 79.56,168.50 80.37,167.84 81.18,167.18 81.99,166.51 82.80,165.85 83.61,165.19 84.42,164.53 85.23,163.87 86.04,163.21 86.85,162.55 87.66,161.89 88.47,161.23 89.28,160.57 90.09,159.91 90.90,159.25 91.71,158.59 92.52,157.93 93.33,157.27 94.14,156.61 94.95,155.95 95.76,155.29 96.57,154.63 97.38,153.97 98.19,153.31 99.00,152.65 99.81,151.99 100.62,151.33 101.43,150.68 102.24,150.02 103.05,149.36 103.86,148.70 104.67,148.05 105.48,147.39 106.29,146.73 107.10,146.08 107.91,145.42 108.72,144.76 109.53,144.11 110.34,143.45 111.15,142.80 111.96,142.14 112.77,141.49 113.58,140.84 114.39,140.18 115.20,139.53 116.01,138.88 116.82,138.22 117.63,137.57 118.44,136.92 119.25,136.27 120.06,135.62 120.87,134.97 121.68,134.32 122.49,133.67 123.30,133.02 124.11,132.37 124.92,131.72 125.73,131.08 126.54,130.43 127.35,129.78 128.16,129.14 128.97,128.49 129.78,127.85 130.59,127.20 131.40,126.56 132.21,125.92 133.02,125.28 133.83,124.64 134.64,124.00 135.45,123.36 136.26,122.72 137.07,122.08 137.88,121.45 138.69,120.81 139.50,120.18 140.31,119.54 141.12,118.91 141.93,118.28 142.74,117.65 143.55,117.02 144.36,116.39 145.17,115.77 145.98,115.14 146.79,114.52 147.60,113.89 148.41,113.27 149.22,112.65 150.03,112.03 150.84,111.42 151.65,110.80 152.46,110.19 153.27,109.58 154.08,108.97 154.89,108.36 155.70,107.75 156.51,107.15 157.32,106.54 158.13,105.94 158.94,105.34 159.75,104.75 160.56,104.15 161.37,103.56 162.18,102.97 162.99,102.38 163.80,101.80 164.61,101.22 165.42,100.64 166.23,100.06 167.04,99.49 167.85,98.91 168.66,98.35 169.47,97.78 170.28,97.22 171.09,96.66 171.90,96.11 172.71,95.55 173.52,95.01 174.33,94.46 175.14,93.92 175.95,93.38 176.76,92.85 177.57,92.32 178.38,91.80 179.19,91.28 180.00,90.76 180.81,90.25 181.62,89.75 182.43,89.25 183.24,88.75 184.05,88.26 184.86,87.77 185.67,87.29 186.48,86.82 187.29,86.35 188.10,85.89 188.91,85.43 189.72,84.98 190.53,84.53 191.34,84.09 192.15,83.66 192.96,83.24 193.77,82.82 194.58,82.40 195.39,82.00 196.20,81.60 197.01,81.21 197.82,80.83 198.63,80.46 199.44,80.09 200.26,79.73 201.07,79.38 201.88,79.04 202.69,78.70 203.50,78.38 204.31,78.06 205.12,77.75 205.93,77.45 206.74,77.16 207.55,76.88 208.36,76.60 209.17,76.34 209.98,76.09 210.79,75.84 211.60,75.60 212.41,75.38 213.22,75.16 214.03,74.95 214.84,74.75 215.65,74.56 216.46,74.37 217.27,74.20 218.08,74.04 218.89,73.88 219.70,73.73 220.51,73.60 221.32,73.47 222.13,73.34 222.94,73.23 223.75,73.12 224.56,73.02 225.37,72.93 226.18,72.85 226.99,72.77 227.80,72.70 228.61,72.63 229.42,72.57 230.23,72.52 231.04,72.47 231.85,72.43 232.66,72.39 233.47,72.35 234.28,72.32 235.09,72.29 235.90,72.27 236.71,72.25 237.52,72.23 238.33,72.22 239.14,72.20 239.95,72.19 240.76,72.18 241.57,72.17 242.38,72.17 243.19,72.16 244.00,72.15 244.81,72.15 245.62,72.15 246.43,72.14 247.24,72.14 248.05,72.14 248.86,72.14 249.67,72.14 250.48,72.14 251.29,72.14 252.10,72.14 252.91,72.14 253.72,72.14 254.53,72.14 255.34,72.14 256.15,72.14 256.96,72.14 257.77,72.14 258.58,72.14 259.39,72.14 260.20,72.14 261.01,72.14 261.82,72.14 262.63,72.14 263.44,72.14 264.25,72.14 265.06,72.14 265.87,72.14 266.68,72.14 267.49,72.14 268.30,72.14 269.11,72.14 269.92,72.14 270.73,72.14 271.54,72.14 272.35,72.14 273.16,72.14 273.97,72.14 274.78,72.14 275.59,72.14 276.40,72.14 277.21,72.14 278.02,72.14 278.83,72.14 279.64,72.14 280.45,72.14 281.26,72.14 282.07,72.14 282.88,72.14 283.69,72.14 284.50,72.14 285.31,72.14 286.12,72.14 286.93,72.14 287.74,72.14 288.55,72.14 289.36,72.14 290.17,72.14 290.98,72.14 291.79,72.14 292.60,72.14 293.41,72.14 294.22,72.14 295.03,72.14 295.84,72.14 296.65,72.14 297.46,72.14 298.27,72.14 299.08,72.14 299.89,72.14 300.70,72.14 301.51,72.14 302.32,72.14 303.13,72.14 303.94,72.14 304.75,72.14 305.56,72.14 306.37,72.14 307.18,72.14 307.99,72.14 308.80,72.14 309.61,72.14 310.42,72.14 311.23,72.14 312.04,72.14 312.85,72.14 313.66,72.14 314.47,72.14 315.28,72.14 316.09,72.14 316.90,72.14 317.71,72.14 318.52,72.14 319.33,72.14 320.14,72.14 320.95,72.14 321.76,72.14 322.57,72.14 323.38,72.14 324.19,72.14 325.00,72.14 325.81,72.14 326.62,72.14 327.43,72.14 328.24,72.14 329.05,72.14 329.86,72.14 330.67,72.14 331.48,72.14 332.29,72.14 333.10,72.14 333.91,72.14 334.72,72.14 335.53,72.14 336.34,72.14 337.15,72.14 337.96,72.14 338.77,72.14 339.58,72.14 340.39,72.14 341.20,72.14 342.01,72.14 342.82,72.14 343.63,72.14 344.44,72.14 345.25,72.14 346.06,72.14 346.87,72.14 347.68,72.14 348.49,72.14 349.30,72.14 350.11,72.14 350.92,72.14 351.73,72.14 352.54,72.14 353.35,72.14 354.16,72.14 354.97,72.14 355.78,72.14 356.59,72.14 357.40,72.14 358.21,72.14 359.02,72.14 359.83,72.14 360.64,72.14 361.45,72.14" fill="none" stroke="#ff00ff" stroke-width="1.25" stroke-dasharray="10 3.4" clip-path="url(#cl)" stroke-linejoin="round"/>
<polyline points="38.25,203.94 39.06,203.27 39.87,202.61 40.68,201.95 41.49,201.28 42.30,200.62 43.11,199.96 43.92,199.29 44.73,198.63 45.54,197.96 46.35,197.30 47.16,196.64 47.97,195.97 48.78,195.31 49.59,194.65 50.40,193.98 51.21,193.32 52.02,192.66 52.83,191.99 53.64,191.33 54.45,190.66 55.26,190.00 56.07,189.34 56.88,188.67 57.69,188.01 58.50,187.35 59.31,186.68 60.12,186.02 60.93,185.36 61.74,184.69 62.55,184.03 63.36,183.37 64.17,182.71 64.98,182.04 65.79,181.38 66.60,180.72 67.41,180.05 68.22,179.39 69.03,178.73 69.84,178.06 70.65,177.40 71.46,176.74 72.27,176.08 73.08,175.41 73.89,174.75 74.70,174.09 75.51,173.43 76.32,172.76 77.13,172.10 77.94,171.44 78.75,170.78 79.56,170.12 80.37,169.45 81.18,168.79 81.99,168.13 82.80,167.47 83.61,166.81 84.42,166.15 85.23,165.48 86.04,164.82 86.85,164.16 87.66,163.50 88.47,162.84 89.28,162.18 90.09,161.52 90.90,160.86 91.71,160.20 92.52,159.54 93.33,158.88 94.14,158.22 94.95,157.56 95.76,156.90 96.57,156.24 97.38,155.58 98.19,154.92 99.00,154.26 99.81,153.60 100.62,152.94 101.43,152.28 102.24,151.63 103.05,150.97 103.86,150.31 104.67,149.65 105.48,148.99 106.29,148.34 107.10,147.68 107.91,147.02 108.72,146.37 109.53,145.71 110.34,145.05 111.15,144.40 111.96,143.74 112.77,143.09 113.58,142.43 114.39,141.78 115.20,141.13 116.01,140.47 116.82,139.82 117.63,139.16 118.44,138.51 119.25,137.86 120.06,137.21 120.87,136.56 121.68,135.91 122.49,135.26 123.30,134.61 124.11,133.96 124.92,133.31 125.73,132.66 126.54,132.01 127.35,131.36 128.16,130.72 128.97,130.07 129.78,129.42 130.59,128.78 131.40,128.13 132.21,127.49 133.02,126.85 133.83,126.20 134.64,125.56 135.45,124.92 136.26,124.28 137.07,123.64 137.88,123.00 138.69,122.37 139.50,121.73 140.31,121.09 141.12,120.46 141.93,119.82 142.74,119.19 143.55,118.56 144.36,117.93 145.17,117.30 145.98,116.67 146.79,116.04 147.60,115.42 148.41,114.79 149.22,114.17 150.03,113.55 150.84,112.93 151.65,112.31 152.46,111.69 153.27,111.07 154.08,110.46 154.89,109.85 155.70,109.24 156.51,108.63 157.32,108.02 158.13,107.41 158.94,106.81 159.75,106.21 160.56,105.61 161.37,105.01 162.18,104.42 162.99,103.82 163.80,103.23 164.61,102.64 165.42,102.06 166.23,101.47 167.04,100.89 167.85,100.31 168.66,99.74 169.47,99.17 170.28,98.60 171.09,98.03 171.90,97.47 172.71,96.91 173.52,96.35 174.33,95.80 175.14,95.25 175.95,94.70 176.76,94.16 177.57,93.62 178.38,93.09 179.19,92.56 180.00,92.03 180.81,91.51 181.62,90.99 182.43,90.48 183.24,89.97 184.05,89.47 184.86,88.97 185.67,88.48 186.48,87.99 187.29,87.50 188.10,87.03 188.91,86.56 189.72,86.09 190.53,85.63 191.34,85.18 192.15,84.73 192.96,84.29 193.77,83.85 194.58,83.42 195.39,83.00 196.20,82.59 197.01,82.18 197.82,81.78 198.63,81.38 199.44,81.00 200.26,80.62 201.07,80.25 201.88,79.89 202.69,79.53 203.50,79.19 204.31,78.85 205.12,78.52 205.93,78.20 206.74,77.89 207.55,77.58 208.36,77.29 209.17,77.00 209.98,76.72 210.79,76.46 211.60,76.20 212.41,75.95 213.22,75.71 214.03,75.47 214.84,75.25 215.65,75.04 216.46,74.83 217.27,74.64 218.08,74.45 218.89,74.28 219.70,74.11 220.51,73.95 221.32,73.80 222.13,73.66 222.94,73.52 223.75,73.40 224.56,73.28 225.37,73.17 226.18,73.07 226.99,72.97 227.80,72.89 228.61,72.80 229.42,72.73 230.23,72.66 231.04,72.60 231.85,72.54 232.66,72.49 233.47,72.45 234.28,72.41 235.09,72.37 235.90,72.34 236.71,72.31 237.52,72.28 238.33,72.26 239.14,72.24 239.95,72.22 240.76,72.21 241.57,72.20 242.38,72.18 243.19,72.18 244.00,72.17 244.81,72.16 245.62,72.16 246.43,72.15 247.24,72.15 248.05,72.15 248.86,72.14 249.67,72.14 250.48,72.14 251.29,72.14 252.10,72.14 252.91,72.14 253.72,72.14 254.53,72.14 255.34,72.14 256.15,72.14 256.96,72.14 257.77,72.14 258.58,72.14 259.39,72.14 260.20,72.14 261.01,72.14 261.82,72.14 262.63,72.14 263.44,72.14 264.25,72.14 265.06,72.14 265.87,72.14 266.68,72.14 267.49,72.14 268.30,72.14 269.11,72.14 269.92,72.14 270.73,72.14 271.54,72.14 272.35,72.14 273.16,72.14 273.97,72.14 274.78,72.14 275.59,72.14 276.40,72.14 277.21,72.14 278.02,72.14 278.83,72.14 279.64,72.14 280.45,72.14 281.26,72.14 282.07,72.14 282.88,72.14 283.69,72.14 284.50,72.14 285.31,72.14 286.12,72.14 286.93,72.14 287.74,72.14 288.55,72.14 289.36,72.14 290.17,72.14 290.98,72.14 291.79,72.14 292.60,72.14 293.41,72.14 294.22,72.14 295.03,72.14 295.84,72.14 296.65,72.14 297.46,72.14 298.27,72.14 299.08,72.14 299.89,72.14 300.70,72.14 301.51,72.14 302.32,72.14 303.13,72.14 303.94,72.14 304.75,72.14 305.56,72.14 306.37,72.14 307.18,72.14 307.99,72.14 308.80,72.14 309.61,72.14 310.42,72.14 311.23,72.14 312.04,72.14 312.85,72.14 313.66,72.14 314.47,72.14 315.28,72.14 316.09,72.14 316.90,72.14 317.71,72.14 318.52,72.14 319.33,72.14 320.14,72.14 320.95,72.14 321.76,72.14 322.57,72.14 323.38,72.14 324.19,72.14 325.00,72.14 325.81,72.14 326.62,72.14 327.43,72.14 328.24,72.14 329.05,72.14 329.86,72.14 330.67,72.14 331.48,72.14 332.29,72.14 333.10,72.14 333.91,72.14 334.72,72.14 335.53,72.14 336.34,72.14 337.15,72.14 337.96,72.14 338.77,72.14 339.58,72.14 340.39,72.14 341.20,72.14 342.01,72.14 342.82,72.14 343.63,72.14 344.44,72.14 345.25,72.14 346.06,72.14 346.87,72.14 347.68,72.14 348.49,72.14 349.30,72.14 350.11,72.14 350.92,72.14 351.73,72.14 352.54,72.14 353.35,72.14 354.16,72.14 354.97,72.14 355.78,72.14 356.59,72.14 357.40,72.14 358.21,72.14 359.02,72.14 359.83,72.14 360.64,72.14 361.45,72.14" fill="none" stroke="#ff00ff" stroke-width="1.25" clip-path="url(#cl)" stroke-linejoin="round"/>
<polyline points="38.25,154.21 39.06,153.60 39.87,152.99 40.68,152.39 41.49,151.79 42.30,151.19 43.11,150.59 43.92,150.00 44.73,149.41 45.54,148.82 46.35,148.24 47.16,147.66 47.97,147.08 48.78,146.50 49.59,145.93 50.40,145.36 51.21,144.79 52.02,144.23 52.83,143.68 53.64,143.12 54.45,142.57 55.26,142.03 56.07,141.48 56.88,140.95 57.69,140.42 58.50,139.89 59.31,139.37 60.12,138.85 60.93,138.34 61.74,137.83 62.55,137.33 63.36,136.84 64.17,136.35 64.98,135.86 65.79,135.39 66.60,134.92 67.41,134.46 68.22,134.00 69.03,133.55 69.84,133.11 70.65,132.68 71.46,132.25 72.27,131.83 73.08,131.42 73.89,131.02 74.70,130.62 75.51,130.24 76.32,129.86 77.13,129.50 77.94,129.14 78.75,128.79 79.56,128.45 80.37,128.12 81.18,127.80 81.99,127.49 82.80,127.19 83.61,126.90 84.42,126.63 85.23,126.36 86.04,126.10 86.85,125.85 87.66,125.62 88.47,125.39 89.28,125.18 90.09,124.97 90.90,124.78 91.71,124.59 92.52,124.42 93.33,124.26 94.14,124.10 94.95,123.96 95.76,123.83 96.57,123.70 97.38,123.59 98.19,123.48 99.00,123.39 99.81,123.30 100.62,123.22 101.43,123.14 102.24,123.08 103.05,123.02 103.86,122.97 104.67,122.92 105.48,122.88 106.29,122.84 107.10,122.81 107.91,122.78 108.72,122.76 109.53,122.74 110.34,122.72 111.15,122.71 111.96,122.70 112.77,122.69 113.58,122.68 114.39,122.67 115.20,122.67 116.01,122.66 116.82,122.66 117.63,122.66 118.44,122.65 119.25,122.65 120.06,122.65 120.87,122.65 121.68,122.65 122.49,122.65 123.30,122.65 124.11,122.65 124.92,122.65 125.73,122.65 126.54,122.65 127.35,122.65 128.16,122.65 128.97,122.65 129.78,122.65 130.59,122.65 131.40,122.65 132.21,122.65 133.02,122.65 133.83,122.65 134.64,122.65 135.45,122.65 136.26,122.65 137.07,122.65 137.88,122.65 138.69,122.65 139.50,122.65 140.31,122.65 141.12,122.65 141.93,122.65 142.74,122.65 143.55,122.65 144.36,122.65 145.17,122.65 145.98,122.65 146.79,122.65 147.60,122.65 148.41,122.65 149.22,122.65 150.03,122.65 150.84,122.65 151.65,122.65 152.46,122.65 153.27,122.65 154.08,122.65 154.89,122.65 155.70,122.65 156.51,122.65 157.32,122.65 158.13,122.65 158.94,122.65 159.75,122.65 160.56,122.65 161.37,122.65 162.18,122.65 162.99,122.65 163.80,122.65 164.61,122.65 165.42,122.65 166.23,122.65 167.04,122.65 167.85,122.65 168.66,122.65 169.47,122.65 170.28,122.65 171.09,122.65 171.90,122.65 172.71,122.65 173.52,122.65 174.33,122.65 175.14,122.65 175.95,122.65 176.76,122.65 177.57,122.65 178.38,122.65 179.19,122.65 180.00,122.65 180.81,122.65 181.62,122.65 182.43,122.65 183.24,122.65 184.05,122.65 184.86,122.65 185.67,122.65 186.48,122.65 187.29,122.65 188.10,122.65 188.91,122.65 189.72,122.65 190.53,122.65 191.34,122.65 192.15,122.65 192.96,122.65 193.77,122.65 194.58,122.65 195.39,122.65 196.20,122.65 197.01,122.65 197.82,122.65 198.63,122.65 199.44,122.65 200.26,122.65 201.07,122.65 201.88,122.65 202.69,122.65 203.50,122.65 204.31,122.65 205.12,122.65 205.93,122.65 206.74,122.65 207.55,122.65 208.36,122.65 209.17,122.65 209.98,122.65 210.79,122.65 211.60,122.65 212.41,122.65 213.22,122.65 214.03,122.65 214.84,122.65 215.65,122.65 216.46,122.65 217.27,122.65 218.08,122.65 218.89,122.65 219.70,122.65 220.51,122.65 221.32,122.65 222.13,122.65 222.94,122.65 223.75,122.65 224.56,122.65 225.37,122.65 226.18,122.65 226.99,122.65 227.80,122.65 228.61,122.65 229.42,122.65 230.23,122.65 231.04,122.65 231.85,122.65 232.66,122.65 233.47,122.65 234.28,122.65 235.09,122.65 235.90,122.65 236.71,122.65 237.52,122.65 238.33,122.65 239.14,122.65 239.95,122.65 240.76,122.65 241.57,122.65 242.38,122.65 243.19,122.65 244.00,122.65 244.81,122.65 245.62,122.65 246.43,122.65 247.24,122.65 248.05,122.65 248.86,122.65 249.67,122.65 250.48,122.65 251.29,122.65 252.10,122.65 252.91,122.65 253.72,122.65 254.53,122.65 255.34,122.65 256.15,122.65 256.96,122.65 257.77,122.65 258.58,122.65 259.39,122.65 260.20,122.65 261.01,122.65 261.82,122.65 262.63,122.65 263.44,122.65 264.25,122.65 265.06,122.65 265.87,122.65 266.68,122.65 267.49,122.65 268.30,122.65 269.11,122.65 269.92,122.65 270.73,122.65 271.54,122.65 272.35,122.65 273.16,122.65 273.97,122.65 274.78,122.65 275.59,122.65 276.40,122.65 277.21,122.65 278.02,122.65 278.83,122.65 279.64,122.65 280.45,122.65 281.26,122.65 282.07,122.65 282.88,122.65 283.69,122.65 284.50,122.65 285.31,122.65 286.12,122.65 286.93,122.65 287.74,122.65 288.55,122.65 289.36,122.65 290.17,122.65 290.98,122.65 291.79,122.65 292.60,122.65 293.41,122.65 294.22,122.65 295.03,122.65 295.84,122.65 296.65,122.65 297.46,122.65 298.27,122.65 299.08,122.65 299.89,122.65 300.70,122.65 301.51,122.65 302.32,122.65 303.13,122.65 303.94,122.65 304.75,122.65 305.56,122.65 306.37,122.65 307.18,122.65 307.99,122.65 308.80,122.65 309.61,122.65 310.42,122.65 311.23,122.65 312.04,122.65 312.85,122.65 313.66,122.65 314.47,122.65 315.28,122.65 316.09,122.65 316.90,122.65 317.71,122.65 318.52,122.65 319.33,122.65 320.14,122.65 320.95,122.65 321.76,122.65 322.57,122.65 323.38,122.65 324.19,122.65 325.00,122.65 325.81,122.65 326.62,122.65 327.43,122.65 328.24,122.65 329.05,122.65 329.86,122.65 330.67,122.65 331.48,122.65 332.29,122.65 333.10,122.65 333.91,122.65 334.72,122.65 335.53,122.65 336.34,122.65 337.15,122.65 337.96,122.65 338.77,122.65 339.58,122.65 340.39,122.65 341.20,122.65 342.01,122.65 342.82,122.65 343.63,122.65 344.44,122.65 345.25,122.65 346.06,122.65 346.87,122.65 347.68,122.65 348.49,122.65 349.30,122.65 350.11,122.65 350.92,122.65 351.73,122.65 352.54,122.65 353.35,122.65 354.16,122.65 354.97,122.65 355.78,122.65 356.59,122.65 357.40,122.65 358.21,122.65 359.02,122.65 359.83,122.65 360.64,122.65 361.45,122.65" fill="none" stroke="#00f0f0" stroke-width="1.25" stroke-dasharray="10 3.4" clip-path="url(#cl)" stroke-linejoin="round"/>
<polyline points="38.25,155.70 39.06,155.09 39.87,154.48 40.68,153.87 41.49,153.26 42.30,152.66 43.11,152.05 43.92,151.46 44.73,150.86 45.54,150.26 46.35,149.67 47.16,149.08 47.97,148.50 48.78,147.91 49.59,147.33 50.40,146.76 51.21,146.18 52.02,145.61 52.83,145.04 53.64,144.48 54.45,143.92 55.26,143.37 56.07,142.81 56.88,142.27 57.69,141.72 58.50,141.19 59.31,140.65 60.12,140.12 60.93,139.60 61.74,139.08 62.55,138.56 63.36,138.06 64.17,137.55 64.98,137.05 65.79,136.56 66.60,136.08 67.41,135.60 68.22,135.13 69.03,134.66 69.84,134.20 70.65,133.75 71.46,133.30 72.27,132.87 73.08,132.44 73.89,132.01 74.70,131.60 75.51,131.19 76.32,130.80 77.13,130.41 77.94,130.03 78.75,129.66 79.56,129.30 80.37,128.94 81.18,128.60 81.99,128.27 82.80,127.94 83.61,127.63 84.42,127.32 85.23,127.03 86.04,126.75 86.85,126.48 87.66,126.21 88.47,125.96 89.28,125.72 90.09,125.49 90.90,125.27 91.71,125.06 92.52,124.86 93.33,124.67 94.14,124.50 94.95,124.33 95.76,124.17 96.57,124.02 97.38,123.89 98.19,123.76 99.00,123.64 99.81,123.53 100.62,123.43 101.43,123.34 102.24,123.25 103.05,123.18 103.86,123.11 104.67,123.04 105.48,122.99 106.29,122.94 107.10,122.90 107.91,122.86 108.72,122.82 109.53,122.79 110.34,122.77 111.15,122.75 111.96,122.73 112.77,122.71 113.58,122.70 114.39,122.69 115.20,122.68 116.01,122.67 116.82,122.67 117.63,122.66 118.44,122.66 119.25,122.66 120.06,122.65 120.87,122.65 121.68,122.65 122.49,122.65 123.30,122.65 124.11,122.65 124.92,122.65 125.73,122.65 126.54,122.65 127.35,122.65 128.16,122.65 128.97,122.65 129.78,122.65 130.59,122.65 131.40,122.65 132.21,122.65 133.02,122.65 133.83,122.65 134.64,122.65 135.45,122.65 136.26,122.65 137.07,122.65 137.88,122.65 138.69,122.65 139.50,122.65 140.31,122.65 141.12,122.65 141.93,122.65 142.74,122.65 143.55,122.65 144.36,122.65 145.17,122.65 145.98,122.65 146.79,122.65 147.60,122.65 148.41,122.65 149.22,122.65 150.03,122.65 150.84,122.65 151.65,122.65 152.46,122.65 153.27,122.65 154.08,122.65 154.89,122.65 155.70,122.65 156.51,122.65 157.32,122.65 158.13,122.65 158.94,122.65 159.75,122.65 160.56,122.65 161.37,122.65 162.18,122.65 162.99,122.65 163.80,122.65 164.61,122.65 165.42,122.65 166.23,122.65 167.04,122.65 167.85,122.65 168.66,122.65 169.47,122.65 170.28,122.65 171.09,122.65 171.90,122.65 172.71,122.65 173.52,122.65 174.33,122.65 175.14,122.65 175.95,122.65 176.76,122.65 177.57,122.65 178.38,122.65 179.19,122.65 180.00,122.65 180.81,122.65 181.62,122.65 182.43,122.65 183.24,122.65 184.05,122.65 184.86,122.65 185.67,122.65 186.48,122.65 187.29,122.65 188.10,122.65 188.91,122.65 189.72,122.65 190.53,122.65 191.34,122.65 192.15,122.65 192.96,122.65 193.77,122.65 194.58,122.65 195.39,122.65 196.20,122.65 197.01,122.65 197.82,122.65 198.63,122.65 199.44,122.65 200.26,122.65 201.07,122.65 201.88,122.65 202.69,122.65 203.50,122.65 204.31,122.65 205.12,122.65 205.93,122.65 206.74,122.65 207.55,122.65 208.36,122.65 209.17,122.65 209.98,122.65 210.79,122.65 211.60,122.65 212.41,122.65 213.22,122.65 214.03,122.65 214.84,122.65 215.65,122.65 216.46,122.65 217.27,122.65 218.08,122.65 218.89,122.65 219.70,122.65 220.51,122.65 221.32,122.65 222.13,122.65 222.94,122.65 223.75,122.65 224.56,122.65 225.37,122.65 226.18,122.65 226.99,122.65 227.80,122.65 228.61,122.65 229.42,122.65 230.23,122.65 231.04,122.65 231.85,122.65 232.66,122.65 233.47,122.65 234.28,122.65 235.09,122.65 235.90,122.65 236.71,122.65 237.52,122.65 238.33,122.65 239.14,122.65 239.95,122.65 240.76,122.65 241.57,122.65 242.38,122.65 243.19,122.65 244.00,122.65 244.81,122.65 245.62,122.65 246.43,122.65 247.24,122.65 248.05,122.65 248.86,122.65 249.67,122.65 250.48,122.65 251.29,122.65 252.10,122.65 252.91,122.65 253.72,122.65 254.53,122.65 255.34,122.65 256.15,122.65 256.96,122.65 257.77,122.65 258.58,122.65 259.39,122.65 260.20,122.65 261.01,122.65 261.82,122.65 262.63,122.65 263.44,122.65 264.25,122.65 265.06,122.65 265.87,122.65 266.68,122.65 267.49,122.65 268.30,122.65 269.11,122.65 269.92,122.65 270.73,122.65 271.54,122.65 272.35,122.65 273.16,122.65 273.97,122.65 274.78,122.65 275.59,122.65 276.40,122.65 277.21,122.65 278.02,122.65 278.83,122.65 279.64,122.65 280.45,122.65 281.26,122.65 282.07,122.65 282.88,122.65 283.69,122.65 284.50,122.65 285.31,122.65 286.12,122.65 286.93,122.65 287.74,122.65 288.55,122.65 289.36,122.65 290.17,122.65 290.98,122.65 291.79,122.65 292.60,122.65 293.41,122.65 294.22,122.65 295.03,122.65 295.84,122.65 296.65,122.65 297.46,122.65 298.27,122.65 299.08,122.65 299.89,122.65 300.70,122.65 301.51,122.65 302.32,122.65 303.13,122.65 303.94,122.65 304.75,122.65 305.56,122.65 306.37,122.65 307.18,122.65 307.99,122.65 308.80,122.65 309.61,122.65 310.42,122.65 311.23,122.65 312.04,122.65 312.85,122.65 313.66,122.65 314.47,122.65 315.28,122.65 316.09,122.65 316.90,122.65 317.71,122.65 318.52,122.65 319.33,122.65 320.14,122.65 320.95,122.65 321.76,122.65 322.57,122.65 323.38,122.65 324.19,122.65 325.00,122.65 325.81,122.65 326.62,122.65 327.43,122.65 328.24,122.65 329.05,122.65 329.86,122.65 330.67,122.65 331.48,122.65 332.29,122.65 333.10,122.65 333.91,122.65 334.72,122.65 335.53,122.65 336.34,122.65 337.15,122.65 337.96,122.65 338.77,122.65 339.58,122.65 340.39,122.65 341.20,122.65 342.01,122.65 342.82,122.65 343.63,122.65 344.44,122.65 345.25,122.65 346.06,122.65 346.87,122.65 347.68,122.65 348.49,122.65 349.30,122.65 350.11,122.65 350.92,122.65 351.73,122.65 352.54,122.65 353.35,122.65 354.16,122.65 354.97,122.65 355.78,122.65 356.59,122.65 357.40,122.65 358.21,122.65 359.02,122.65 359.83,122.65 360.64,122.65 361.45,122.65" fill="none" stroke="#00f0f0" stroke-width="1.25" clip-path="url(#cl)" stroke-linejoin="round"/>
<rect x="43.20" y="10.40" width="313.30" height="284.00" fill="none" stroke="#000" stroke-width="1.5"/>
<line x1="43.20" y1="23.92" x2="49.50" y2="23.92" stroke="#000" stroke-width="1.4"/>
<text x="39.40" y="28.62" font-size="13.1" text-anchor="end">10<tspan font-size="8.3" dy="-6.7">0</tspan></text>
<line x1="43.20" y1="91.54" x2="49.50" y2="91.54" stroke="#000" stroke-width="1.4"/>
<text x="39.40" y="96.24" font-size="13.1" text-anchor="end">10<tspan font-size="8.3" dy="-6.7">-5</tspan></text>
<line x1="43.20" y1="159.16" x2="49.50" y2="159.16" stroke="#000" stroke-width="1.4"/>
<text x="39.40" y="163.86" font-size="13.1" text-anchor="end">10<tspan font-size="8.3" dy="-6.7">-10</tspan></text>
<line x1="43.20" y1="226.78" x2="49.50" y2="226.78" stroke="#000" stroke-width="1.4"/>
<text x="39.40" y="231.48" font-size="13.1" text-anchor="end">10<tspan font-size="8.3" dy="-6.7">-15</tspan></text>
<line x1="43.20" y1="294.40" x2="49.50" y2="294.40" stroke="#000" stroke-width="1.4"/>
<text x="39.40" y="299.10" font-size="13.1" text-anchor="end">10<tspan font-size="8.3" dy="-6.7">-20</tspan></text>
<line x1="43.20" y1="294.40" x2="43.20" y2="288.10" stroke="#000" stroke-width="1.4"/>
<text x="43.60" y="310.60" font-size="13.1" text-anchor="middle">10<tspan font-size="8.3" dy="-6.7">-20</tspan></text>
<line x1="76.18" y1="294.40" x2="76.18" y2="288.10" stroke="#000" stroke-width="1.4"/>
<text x="76.58" y="310.60" font-size="13.1" text-anchor="middle">10<tspan font-size="8.3" dy="-6.7">-18</tspan></text>
<line x1="109.16" y1="294.40" x2="109.16" y2="288.10" stroke="#000" stroke-width="1.4"/>
<text x="109.56" y="310.60" font-size="13.1" text-anchor="middle">10<tspan font-size="8.3" dy="-6.7">-16</tspan></text>
<line x1="142.14" y1="294.40" x2="142.14" y2="288.10" stroke="#000" stroke-width="1.4"/>
<text x="142.54" y="310.60" font-size="13.1" text-anchor="middle">10<tspan font-size="8.3" dy="-6.7">-14</tspan></text>
<line x1="175.12" y1="294.40" x2="175.12" y2="288.10" stroke="#000" stroke-width="1.4"/>
<text x="175.52" y="310.60" font-size="13.1" text-anchor="middle">10<tspan font-size="8.3" dy="-6.7">-12</tspan></text>
<line x1="208.09" y1="294.40" x2="208.09" y2="288.10" stroke="#000" stroke-width="1.4"/>
<text x="208.49" y="310.60" font-size="13.1" text-anchor="middle">10<tspan font-size="8.3" dy="-6.7">-10</tspan></text>
<line x1="241.07" y1="294.40" x2="241.07" y2="288.10" stroke="#000" stroke-width="1.4"/>
<text x="241.47" y="310.60" font-size="13.1" text-anchor="middle">10<tspan font-size="8.3" dy="-6.7">-8</tspan></text>
<line x1="274.05" y1="294.40" x2="274.05" y2="288.10" stroke="#000" stroke-width="1.4"/>
<text x="274.45" y="310.60" font-size="13.1" text-anchor="middle">10<tspan font-size="8.3" dy="-6.7">-6</tspan></text>
<line x1="307.03" y1="294.40" x2="307.03" y2="288.10" stroke="#000" stroke-width="1.4"/>
<text x="307.43" y="310.60" font-size="13.1" text-anchor="middle">10<tspan font-size="8.3" dy="-6.7">-4</tspan></text>
<line x1="340.01" y1="294.40" x2="340.01" y2="288.10" stroke="#000" stroke-width="1.4"/>
<text x="340.41" y="310.60" font-size="13.1" text-anchor="middle">10<tspan font-size="8.3" dy="-6.7">-2</tspan></text>
<text x="0" y="0" font-size="13.3" text-anchor="middle" transform="translate(9.90,152.40) rotate(-90)">Reduced mass escape rate Φ<tspan font-size="8.3" font-style="italic" dy="2.6">m</tspan><tspan dy="-2.6"> / Φ</tspan><tspan font-size="8.3" dy="2.6"><tspan font-style="italic">m</tspan>(J0)</tspan></text>
<text x="120.40" y="327.00" font-size="13.3" id="xtL" textLength="128.77" lengthAdjust="spacing">Source Knudsen number</text>
<text x="260.80" y="327.00" font-size="13.3" font-style="italic" id="KnL">Kn<tspan font-style="normal" font-size="8.3" dy="3.4">0</tspan></text>
<text x="-0.50" y="10.00" font-size="12.8" id="pa">(a)</text>
<text x="62.60" y="32.90" font-size="13.3" id="w1L">ω = 1</text>
<text x="52.10" y="113.60" font-size="13.3" id="lam30" textLength="39.46" lengthAdjust="spacing">λ<tspan font-size="8.3" dy="3.6">0</tspan><tspan dy="-3.6"> = 30</tspan></text>
<line x1="85.40" y1="116.50" x2="74.60" y2="129.80" stroke="#444" stroke-width="0.7"/>
<line x1="87.20" y1="116.70" x2="91.60" y2="123.40" stroke="#444" stroke-width="0.7"/>
<text x="155.50" y="73.10" font-size="13.3" id="lam20">λ<tspan font-size="8.3" dy="3.6">0</tspan><tspan dy="-3.6"> = 20</tspan></text>
<line x1="196.20" y1="72.40" x2="203.10" y2="77.70" stroke="#444" stroke-width="0.7"/>
<line x1="193.60" y1="74.60" x2="191.40" y2="83.70" stroke="#444" stroke-width="0.7"/>
<text x="219.90" y="45.90" font-size="13.3" id="lam15L">λ<tspan font-size="8.3" dy="3.6">0</tspan><tspan dy="-3.6"> = 15</tspan></text>
<line x1="257.40" y1="45.10" x2="256.60" y2="55.70" stroke="#444" stroke-width="0.7"/>
<line x1="257.40" y1="45.10" x2="266.50" y2="51.10" stroke="#444" stroke-width="0.7"/>
<text x="264.50" y="28.40" font-size="13.3" id="lam10L">λ<tspan font-size="8.3" dy="3.6">0</tspan><tspan dy="-3.6"> = 10</tspan></text>
<line x1="304.20" y1="25.80" x2="307.40" y2="34.60" stroke="#444" stroke-width="0.7"/>
<line x1="304.40" y1="26.10" x2="318.60" y2="30.50" stroke="#444" stroke-width="0.7"/>
<text x="160.10" y="189.10" font-size="13.3" id="lam5L">λ<tspan font-size="8.3" dy="3.6">0</tspan><tspan dy="-3.6"> = 5</tspan></text>
<line x1="158.50" y1="186.00" x2="151.10" y2="175.00" stroke="#444" stroke-width="0.7"/>
<line x1="158.50" y1="186.00" x2="135.30" y2="186.00" stroke="#999" stroke-width="0.7"/>
<line x1="240.1" y1="242.9" x2="299.5" y2="242.9" stroke="#000" stroke-width="1.5"/>
<line x1="240.1" y1="263.3" x2="300" y2="263.3" stroke="#000" stroke-width="1.5" stroke-dasharray="9.9 3.3"/>
<text x="308.90" y="248.10" font-size="13.3" id="g53">γ = 5/3</text>
<text x="308.90" y="267.90" font-size="13.3" id="g75">γ = 7/5</text>
<text x="415.80" y="298.90" font-size="13.1" text-anchor="end">10<tspan font-size="8.3" dy="-6.7">-2</tspan></text>
<text x="415.80" y="203.60" font-size="13.1" text-anchor="end">10<tspan font-size="8.3" dy="-6.7">-1</tspan></text>
<text x="415.80" y="108.30" font-size="13.1" text-anchor="end">10<tspan font-size="8.3" dy="-6.7">0</tspan></text>
<text x="415.80" y="13.00" font-size="13.1" text-anchor="end">10<tspan font-size="8.3" dy="-6.7">1</tspan></text>
<text x="420.00" y="310.40" font-size="13.1" text-anchor="middle">10<tspan font-size="8.3" dy="-6.7">-4</tspan></text>
<text x="525.13" y="310.40" font-size="13.1" text-anchor="middle">10<tspan font-size="8.3" dy="-6.7">-3</tspan></text>
<text x="630.27" y="310.40" font-size="13.1" text-anchor="middle">10<tspan font-size="8.3" dy="-6.7">-2</tspan></text>
<text x="735.40" y="310.40" font-size="13.1" text-anchor="middle">10<tspan font-size="8.3" dy="-6.7">-1</tspan></text>
<text x="0" y="0" font-size="13.3" text-anchor="middle" transform="translate(386.00,151.20) rotate(-90)">Reduced mass escape rate Φ<tspan font-size="8.3" font-style="italic" dy="2.6">m</tspan><tspan dy="-2.6"> / Φ</tspan><tspan font-size="8.3" dy="2.6"><tspan font-style="italic">m</tspan>(J0)</tspan></text>
<text x="497.30" y="327.00" font-size="13.3" id="xtR" textLength="128.87" lengthAdjust="spacing">Source Knudsen number</text>
<text x="638.70" y="327.00" font-size="13.3" font-style="italic" id="KnR">Kn<tspan font-style="normal" font-size="8.3" dy="3.4">0</tspan></text>
<text x="375.30" y="9.50" font-size="12.8" id="pb">(b)</text>
<polyline points="419.60,277.00 735.00,277.00" fill="none" stroke="#2e2eff" stroke-width="1.25" clip-path="url(#cr)" stroke-linejoin="round"/>
<polyline points="419.60,72.30 469.80,67.60 524.70,72.20 574.80,79.30 629.80,86.30 679.90,92.30 734.90,98.30" fill="none" stroke="#2e2eff" stroke-width="1.25" stroke-dasharray="10 3.4" clip-path="url(#cr)" stroke-linejoin="round"/>
<polyline points="419.60,164.50 469.80,122.30" fill="none" stroke="#00cc00" stroke-width="1.25" clip-path="url(#cr)" stroke-linejoin="round"/>
<polyline points="469.80,122.30 524.70,89.30 574.80,71.60 629.80,70.50 679.90,78.70 734.90,88.70" fill="none" stroke="#00cc00" stroke-width="1.25" stroke-dasharray="10 3.4" clip-path="url(#cr)" stroke-linejoin="round"/>
<polyline points="419.60,187.50 472.20,162.10 524.70,144.60 577.30,135.60 629.80,131.50 682.40,130.70 734.90,130.00" fill="none" stroke="#00cc00" stroke-width="1.25" clip-path="url(#cr)" stroke-linejoin="round"/>
<polyline points="419.60,261.40 492.90,202.90" fill="none" stroke="#d80000" stroke-width="1.25" clip-path="url(#cr)" stroke-linejoin="round"/>
<polyline points="492.90,202.90 524.70,175.60 574.80,137.20 629.80,100.90 679.90,78.70 734.90,75.00" fill="none" stroke="#d80000" stroke-width="1.25" stroke-dasharray="0 3.2 10 3.4" clip-path="url(#cr)" stroke-linejoin="round"/>
<polyline points="419.60,255.40 472.20,210.40 524.70,165.90 577.30,124.80 629.80,89.30 682.40,59.50 734.90,41.30" fill="none" stroke="#d80000" stroke-width="1.25" clip-path="url(#cr)" stroke-linejoin="round"/>
<circle cx="472.20" cy="277.00" r="3.6" fill="#2e2eff" stroke="#000088" stroke-width="0.8"/>
<circle cx="524.70" cy="277.00" r="3.6" fill="#2e2eff" stroke="#000088" stroke-width="0.8"/>
<circle cx="577.30" cy="277.00" r="3.6" fill="#2e2eff" stroke="#000088" stroke-width="0.8"/>
<circle cx="629.80" cy="277.00" r="3.6" fill="#2e2eff" stroke="#000088" stroke-width="0.8"/>
<circle cx="682.40" cy="277.00" r="3.6" fill="#2e2eff" stroke="#000088" stroke-width="0.8"/>
<circle cx="734.90" cy="277.00" r="3.6" fill="#2e2eff" stroke="#000088" stroke-width="0.8"/>
<circle cx="472.20" cy="162.10" r="3.6" fill="#00cc00" stroke="#006600" stroke-width="0.8"/>
<circle cx="524.70" cy="144.60" r="3.6" fill="#00cc00" stroke="#006600" stroke-width="0.8"/>
<circle cx="577.30" cy="135.60" r="3.6" fill="#00cc00" stroke="#006600" stroke-width="0.8"/>
<circle cx="629.80" cy="131.50" r="3.6" fill="#00cc00" stroke="#006600" stroke-width="0.8"/>
<circle cx="682.40" cy="130.70" r="3.6" fill="#00cc00" stroke="#006600" stroke-width="0.8"/>
<circle cx="734.90" cy="130.00" r="3.6" fill="#00cc00" stroke="#006600" stroke-width="0.8"/>
<circle cx="472.20" cy="210.40" r="3.6" fill="#d80000" stroke="#660000" stroke-width="0.8"/>
<circle cx="524.70" cy="165.90" r="3.6" fill="#d80000" stroke="#660000" stroke-width="0.8"/>
<circle cx="577.30" cy="124.80" r="3.6" fill="#d80000" stroke="#660000" stroke-width="0.8"/>
<circle cx="629.80" cy="89.30" r="3.6" fill="#d80000" stroke="#660000" stroke-width="0.8"/>
<circle cx="682.40" cy="59.50" r="3.6" fill="#d80000" stroke="#660000" stroke-width="0.8"/>
<circle cx="734.90" cy="41.30" r="3.6" fill="#d80000" stroke="#660000" stroke-width="0.8"/>
<rect x="467.20" y="65.00" width="5.2" height="5.2" fill="#fff" stroke="#777" stroke-width="0.8"/>
<rect x="522.10" y="69.60" width="5.2" height="5.2" fill="#fff" stroke="#777" stroke-width="0.8"/>
<rect x="572.20" y="76.70" width="5.2" height="5.2" fill="#fff" stroke="#777" stroke-width="0.8"/>
<rect x="627.20" y="83.70" width="5.2" height="5.2" fill="#fff" stroke="#777" stroke-width="0.8"/>
<rect x="677.30" y="89.70" width="5.2" height="5.2" fill="#fff" stroke="#777" stroke-width="0.8"/>
<rect x="732.30" y="95.70" width="5.2" height="5.2" fill="#fff" stroke="#777" stroke-width="0.8"/>
<rect x="467.20" y="119.70" width="5.2" height="5.2" fill="#fff" stroke="#777" stroke-width="0.8"/>
<rect x="522.10" y="86.70" width="5.2" height="5.2" fill="#fff" stroke="#777" stroke-width="0.8"/>
<rect x="572.20" y="69.00" width="5.2" height="5.2" fill="#fff" stroke="#777" stroke-width="0.8"/>
<rect x="627.20" y="67.90" width="5.2" height="5.2" fill="#fff" stroke="#777" stroke-width="0.8"/>
<rect x="677.30" y="76.10" width="5.2" height="5.2" fill="#fff" stroke="#777" stroke-width="0.8"/>
<rect x="732.30" y="86.10" width="5.2" height="5.2" fill="#fff" stroke="#777" stroke-width="0.8"/>
<rect x="467.20" y="219.70" width="5.2" height="5.2" fill="#fff" stroke="#777" stroke-width="0.8"/>
<rect x="522.10" y="173.00" width="5.2" height="5.2" fill="#fff" stroke="#777" stroke-width="0.8"/>
<rect x="572.20" y="134.60" width="5.2" height="5.2" fill="#fff" stroke="#777" stroke-width="0.8"/>
<rect x="627.20" y="98.30" width="5.2" height="5.2" fill="#fff" stroke="#777" stroke-width="0.8"/>
<rect x="677.30" y="76.10" width="5.2" height="5.2" fill="#fff" stroke="#777" stroke-width="0.8"/>
<rect x="732.30" y="72.40" width="5.2" height="5.2" fill="#fff" stroke="#777" stroke-width="0.8"/>
<rect x="419.60" y="8.20" width="315.40" height="285.90" fill="none" stroke="#000" stroke-width="1.5"/>
<line x1="419.60" y1="294.10" x2="426.10" y2="294.10" stroke="#000" stroke-width="1.4"/>
<line x1="419.60" y1="265.41" x2="423.60" y2="265.41" stroke="#444" stroke-width="0.9"/>
<line x1="419.60" y1="248.63" x2="423.60" y2="248.63" stroke="#444" stroke-width="0.9"/>
<line x1="419.60" y1="236.72" x2="423.60" y2="236.72" stroke="#444" stroke-width="0.9"/>
<line x1="419.60" y1="227.49" x2="423.60" y2="227.49" stroke="#444" stroke-width="0.9"/>
<line x1="419.60" y1="219.94" x2="423.60" y2="219.94" stroke="#444" stroke-width="0.9"/>
<line x1="419.60" y1="213.56" x2="423.60" y2="213.56" stroke="#444" stroke-width="0.9"/>
<line x1="419.60" y1="208.04" x2="423.60" y2="208.04" stroke="#444" stroke-width="0.9"/>
<line x1="419.60" y1="203.16" x2="423.60" y2="203.16" stroke="#444" stroke-width="0.9"/>
<line x1="419.60" y1="198.80" x2="426.10" y2="198.80" stroke="#000" stroke-width="1.4"/>
<line x1="419.60" y1="170.11" x2="423.60" y2="170.11" stroke="#444" stroke-width="0.9"/>
<line x1="419.60" y1="153.33" x2="423.60" y2="153.33" stroke="#444" stroke-width="0.9"/>
<line x1="419.60" y1="141.42" x2="423.60" y2="141.42" stroke="#444" stroke-width="0.9"/>
<line x1="419.60" y1="132.19" x2="423.60" y2="132.19" stroke="#444" stroke-width="0.9"/>
<line x1="419.60" y1="124.64" x2="423.60" y2="124.64" stroke="#444" stroke-width="0.9"/>
<line x1="419.60" y1="118.26" x2="423.60" y2="118.26" stroke="#444" stroke-width="0.9"/>
<line x1="419.60" y1="112.74" x2="423.60" y2="112.74" stroke="#444" stroke-width="0.9"/>
<line x1="419.60" y1="107.86" x2="423.60" y2="107.86" stroke="#444" stroke-width="0.9"/>
<line x1="419.60" y1="103.50" x2="426.10" y2="103.50" stroke="#000" stroke-width="1.4"/>
<line x1="419.60" y1="74.81" x2="423.60" y2="74.81" stroke="#444" stroke-width="0.9"/>
<line x1="419.60" y1="58.03" x2="423.60" y2="58.03" stroke="#444" stroke-width="0.9"/>
<line x1="419.60" y1="46.12" x2="423.60" y2="46.12" stroke="#444" stroke-width="0.9"/>
<line x1="419.60" y1="36.89" x2="423.60" y2="36.89" stroke="#444" stroke-width="0.9"/>
<line x1="419.60" y1="29.34" x2="423.60" y2="29.34" stroke="#444" stroke-width="0.9"/>
<line x1="419.60" y1="22.96" x2="423.60" y2="22.96" stroke="#444" stroke-width="0.9"/>
<line x1="419.60" y1="17.44" x2="423.60" y2="17.44" stroke="#444" stroke-width="0.9"/>
<line x1="419.60" y1="12.56" x2="423.60" y2="12.56" stroke="#444" stroke-width="0.9"/>
<line x1="419.60" y1="8.20" x2="426.10" y2="8.20" stroke="#000" stroke-width="1.4"/>
<line x1="419.60" y1="294.10" x2="419.60" y2="287.60" stroke="#000" stroke-width="1.4"/>
<line x1="451.25" y1="294.10" x2="451.25" y2="290.10" stroke="#444" stroke-width="0.9"/>
<line x1="469.76" y1="294.10" x2="469.76" y2="290.10" stroke="#444" stroke-width="0.9"/>
<line x1="482.90" y1="294.10" x2="482.90" y2="290.10" stroke="#444" stroke-width="0.9"/>
<line x1="493.09" y1="294.10" x2="493.09" y2="290.10" stroke="#444" stroke-width="0.9"/>
<line x1="501.41" y1="294.10" x2="501.41" y2="290.10" stroke="#444" stroke-width="0.9"/>
<line x1="508.45" y1="294.10" x2="508.45" y2="290.10" stroke="#444" stroke-width="0.9"/>
<line x1="514.54" y1="294.10" x2="514.54" y2="290.10" stroke="#444" stroke-width="0.9"/>
<line x1="519.92" y1="294.10" x2="519.92" y2="290.10" stroke="#444" stroke-width="0.9"/>
<line x1="524.73" y1="294.10" x2="524.73" y2="287.60" stroke="#000" stroke-width="1.4"/>
<line x1="556.38" y1="294.10" x2="556.38" y2="290.10" stroke="#444" stroke-width="0.9"/>
<line x1="574.89" y1="294.10" x2="574.89" y2="290.10" stroke="#444" stroke-width="0.9"/>
<line x1="588.03" y1="294.10" x2="588.03" y2="290.10" stroke="#444" stroke-width="0.9"/>
<line x1="598.22" y1="294.10" x2="598.22" y2="290.10" stroke="#444" stroke-width="0.9"/>
<line x1="606.54" y1="294.10" x2="606.54" y2="290.10" stroke="#444" stroke-width="0.9"/>
<line x1="613.58" y1="294.10" x2="613.58" y2="290.10" stroke="#444" stroke-width="0.9"/>
<line x1="619.68" y1="294.10" x2="619.68" y2="290.10" stroke="#444" stroke-width="0.9"/>
<line x1="625.06" y1="294.10" x2="625.06" y2="290.10" stroke="#444" stroke-width="0.9"/>
<line x1="629.87" y1="294.10" x2="629.87" y2="287.60" stroke="#000" stroke-width="1.4"/>
<line x1="661.51" y1="294.10" x2="661.51" y2="290.10" stroke="#444" stroke-width="0.9"/>
<line x1="680.03" y1="294.10" x2="680.03" y2="290.10" stroke="#444" stroke-width="0.9"/>
<line x1="693.16" y1="294.10" x2="693.16" y2="290.10" stroke="#444" stroke-width="0.9"/>
<line x1="703.35" y1="294.10" x2="703.35" y2="290.10" stroke="#444" stroke-width="0.9"/>
<line x1="711.68" y1="294.10" x2="711.68" y2="290.10" stroke="#444" stroke-width="0.9"/>
<line x1="718.71" y1="294.10" x2="718.71" y2="290.10" stroke="#444" stroke-width="0.9"/>
<line x1="724.81" y1="294.10" x2="724.81" y2="290.10" stroke="#444" stroke-width="0.9"/>
<line x1="730.19" y1="294.10" x2="730.19" y2="290.10" stroke="#444" stroke-width="0.9"/>
<line x1="735.00" y1="294.10" x2="735.00" y2="287.60" stroke="#000" stroke-width="1.4"/>
<text x="516.50" y="60.90" font-size="13.3" id="lam15R">λ<tspan font-size="8.3" dy="3.6">0</tspan><tspan dy="-3.6"> = 15</tspan></text>
<line x1="514.70" y1="60.10" x2="501.30" y2="69.20" stroke="#444" stroke-width="0.7"/>
<text x="509.70" y="125.80" font-size="13.3" id="lam10R" textLength="38.76" lengthAdjust="spacing">λ<tspan font-size="8.3" dy="3.6">0</tspan><tspan dy="-3.6"> = 10</tspan></text>
<line x1="507.70" y1="119.80" x2="488.50" y2="111.70" stroke="#444" stroke-width="0.7"/>
<line x1="510.00" y1="127.80" x2="493.60" y2="154.50" stroke="#444" stroke-width="0.7"/>
<text x="505.30" y="211.00" font-size="13.3" id="lam5R">λ<tspan font-size="8.3" dy="3.6">0</tspan><tspan dy="-3.6"> = 5</tspan></text>
<line x1="503.10" y1="204.50" x2="490.20" y2="194.80" stroke="#444" stroke-width="0.7"/>
<line x1="503.10" y1="207.70" x2="485.40" y2="206.10" stroke="#999" stroke-width="0.7"/>
<text x="504.10" y="264.80" font-size="13.3" id="lam15Rb">λ<tspan font-size="8.3" dy="3.6">0</tspan><tspan dy="-3.6"> = 15</tspan></text>
<line x1="502.60" y1="262.40" x2="487.00" y2="276.30" stroke="#444" stroke-width="0.7"/>
<text x="643.30" y="178.90" font-size="13.3" id="g75c">γ = 7/5,</text>
<text x="693.70" y="178.90" font-size="13.3" id="w1R">ω = 1</text>
<line x1="576" y1="197.4" x2="636.2" y2="197.4" stroke="#000" stroke-width="1.5"/>
<circle cx="605.9" cy="197.4" r="3.6" fill="#000"/>
<line x1="576" y1="217.6" x2="636.2" y2="217.6" stroke="#000" stroke-width="1.5" stroke-dasharray="9.7 3.6"/>
<rect x="603.2" y="214.8" width="5.6" height="5.6" fill="#fff" stroke="#555" stroke-width="0.8"/>
<text x="647.10" y="201.60" font-size="13.3" id="parker" textLength="76.34" lengthAdjust="spacing">Parker’s model</text>
<text x="647.10" y="221.70" font-size="13.3" id="kinetic" textLength="73.50" lengthAdjust="spacing">Kinetic model</text>
</svg></body></html>
